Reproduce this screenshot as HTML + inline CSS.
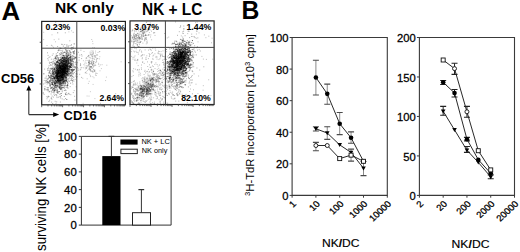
<!DOCTYPE html>
<html><head><meta charset="utf-8"><style>
html,body{margin:0;padding:0;background:#fff;width:520px;height:252px;overflow:hidden}
svg{display:block;font-family:"Liberation Sans", sans-serif}
.r{stroke:#000;stroke-width:0.25px}
</style></head><body>
<svg width="520" height="252" viewBox="0 0 520 252" font-family='"Liberation Sans", sans-serif' fill="#000">
<rect width="520" height="252" fill="#fff"/>
<text transform="translate(0.08,0.48) translate(1.39,19.40) scale(1.075,1.042)" font-size="24" font-weight="bold" >A</text>
<text transform="translate(0.4,0.16) translate(54.66,13.10) scale(1.038,1.033)" font-size="15" font-weight="bold" >NK only</text>
<text transform="translate(0.0,0.72) translate(142.07,14.50) scale(1.027,1.057)" font-size="15" font-weight="bold" >NK + LC</text>
<path d="M62.5 73.8h1M59.4 72.3h1M57.6 78.1h1M66.3 62.8h1M65.4 63.2h1M63.2 68.1h1M59.4 85.5h1M64.8 67.7h1M49.4 81.8h1M56.8 77.4h1M62.1 68.5h1M60.5 65.9h1M63.8 69.1h1M65.8 78.8h1M67.6 68.4h1M56.6 74.8h1M59.8 73.6h1M64.2 66.4h1M56.3 73.1h1M64.4 76.9h1M59.7 77.8h1M56.9 65.4h1M66.4 72.6h1M53.9 86.5h1M57.9 70.6h1M62.6 67.0h1M60.0 83.8h1M67.0 67.1h1M67.1 60.1h1M56.7 68.1h1M60.9 65.2h1M55.1 72.7h1M56.3 77.9h1M57.5 57.8h1M57.7 82.9h1M68.0 60.4h1M45.8 82.3h1M59.6 67.1h1M61.6 81.3h1M65.3 62.5h1M63.7 69.7h1M68.6 59.3h1M65.0 67.7h1M61.4 85.3h1M66.3 64.2h1M52.8 85.7h1M57.0 61.6h1M64.6 74.0h1M63.4 83.8h1M62.4 66.4h1M64.8 69.4h1M66.0 71.7h1M57.7 75.6h1M64.6 62.8h1M62.2 79.4h1M64.1 58.7h1M56.5 81.7h1M59.7 71.7h1M61.7 58.3h1M60.3 59.1h1M61.3 78.2h1M68.1 63.3h1M62.9 68.5h1M64.0 70.6h1M61.8 72.8h1M63.1 66.5h1M65.8 65.8h1M68.7 55.6h1M58.6 73.8h1M64.8 72.5h1M61.7 74.2h1M57.2 52.6h1M58.8 80.3h1M63.4 68.2h1M62.5 75.4h1M60.2 68.0h1M70.1 52.3h1M59.2 75.2h1M60.4 72.7h1M51.0 91.9h1M59.9 61.3h1M64.7 72.9h1M69.6 66.4h1M54.7 84.0h1M62.6 74.6h1M54.4 58.4h1M59.1 60.2h1M57.7 63.4h1M66.4 71.4h1M61.6 72.5h1M64.3 64.9h1M66.9 74.0h1M63.4 62.3h1M65.4 47.5h1M63.1 63.4h1M64.4 71.0h1M64.4 70.2h1M50.8 80.9h1M59.5 64.7h1M52.5 76.9h1M68.1 62.1h1M62.3 57.9h1M56.9 69.3h1M69.7 67.3h1M64.5 80.4h1M63.7 62.9h1M60.6 88.7h1M58.7 70.9h1M64.1 68.4h1M62.0 57.6h1M70.5 64.2h1M65.1 59.2h1M62.9 78.4h1M62.1 70.3h1M64.7 59.3h1M52.7 88.6h1M58.7 86.9h1M59.9 67.6h1M64.5 72.3h1M66.6 72.3h1M65.1 73.0h1M72.0 61.6h1M62.6 77.6h1M51.4 84.3h1M59.3 88.1h1M57.5 80.7h1M60.6 72.5h1M60.4 76.0h1M67.0 56.9h1M66.8 68.3h1M55.9 70.7h1M63.7 77.0h1M53.9 83.2h1M67.4 64.2h1M64.4 72.1h1M57.3 67.9h1M54.0 82.4h1M62.0 62.8h1M55.6 77.0h1M56.1 83.0h1M59.1 80.9h1M55.3 90.2h1M51.9 73.2h1M62.5 64.8h1M51.1 87.4h1M60.4 68.0h1M66.6 65.9h1M64.6 66.2h1M67.9 61.4h1M54.7 64.3h1M69.1 65.8h1M58.6 72.7h1M60.6 53.0h1M72.0 70.9h1M61.1 79.4h1M66.7 55.9h1M66.5 67.9h1M58.2 78.0h1M65.4 69.9h1M60.4 71.0h1M56.8 78.5h1M64.4 64.1h1M55.5 76.5h1M73.9 51.6h1M53.4 62.1h1M65.1 66.8h1M68.1 58.3h1M63.1 72.3h1M59.3 87.9h1M59.6 67.4h1M72.3 63.2h1M54.4 81.1h1M62.9 69.0h1M56.3 72.7h1M71.8 55.7h1M52.5 78.5h1M70.3 59.0h1M70.0 57.8h1M59.6 78.3h1M51.8 87.0h1M63.1 72.2h1M58.6 76.6h1M64.2 67.9h1M64.1 66.3h1M63.3 74.7h1M58.3 69.4h1M59.4 76.0h1M61.6 72.1h1M62.0 71.3h1M56.1 70.2h1M66.6 69.2h1M61.9 67.3h1M59.0 66.0h1M55.7 86.1h1M61.3 79.5h1M47.9 75.7h1M64.1 81.6h1M54.9 72.0h1M60.9 77.8h1M63.5 67.3h1M68.6 60.3h1M63.5 72.1h1M70.1 59.3h1M60.3 61.3h1M63.6 73.3h1M64.5 74.9h1M66.6 67.6h1M70.4 76.5h1M64.3 60.9h1M71.5 74.1h1M63.6 75.0h1M64.3 63.2h1M58.4 80.5h1M66.7 69.8h1M63.8 64.8h1M66.0 65.0h1M62.1 69.4h1M63.2 73.9h1M55.7 78.4h1M55.7 68.8h1M52.3 71.5h1M61.4 77.3h1M62.8 66.4h1M55.2 70.7h1M68.9 57.3h1M61.3 61.0h1M53.8 69.8h1M67.3 66.2h1M55.3 86.0h1M56.5 63.4h1M51.6 83.9h1M54.0 73.9h1M62.4 71.1h1M65.9 67.0h1M70.4 60.8h1M55.3 80.6h1M53.9 77.8h1M61.1 71.7h1M56.7 64.8h1M57.4 80.8h1M59.5 72.1h1M58.2 70.4h1M64.8 66.0h1M58.5 70.7h1M50.4 68.3h1M58.4 78.8h1M57.4 83.2h1M56.5 67.8h1M59.3 72.5h1M65.1 68.3h1M57.9 70.0h1M60.6 72.0h1M64.7 65.6h1M53.9 74.7h1M57.3 72.9h1M57.4 79.6h1M60.2 75.0h1M61.3 66.2h1M67.2 52.1h1M65.2 62.5h1M55.7 58.6h1M59.9 77.3h1M72.1 69.7h1M67.2 70.3h1M67.3 66.3h1M62.3 66.7h1M58.7 65.4h1M61.1 60.1h1M70.2 72.2h1M60.7 72.8h1M65.0 61.8h1M59.8 77.8h1M65.8 67.4h1M65.6 79.7h1M66.5 57.8h1M60.5 68.2h1M63.0 58.7h1M61.5 64.9h1M61.9 77.6h1M65.4 60.4h1M62.3 77.6h1M62.3 71.9h1M70.3 60.6h1M68.4 78.5h1M64.3 72.1h1M59.1 76.1h1M62.7 87.5h1M60.9 58.4h1M50.5 80.5h1M63.2 61.0h1M59.9 71.0h1M56.8 70.3h1M55.9 68.7h1M62.3 72.0h1M61.9 67.0h1M59.1 78.4h1M65.8 77.2h1M63.2 64.7h1M57.2 73.7h1M57.1 77.9h1M64.2 69.4h1M71.1 69.6h1M59.2 76.6h1M62.8 46.1h1M60.3 75.4h1M63.3 70.4h1M62.0 73.4h1M64.4 71.7h1M52.1 84.7h1M57.4 69.5h1M60.5 80.2h1M61.7 77.1h1M64.8 65.5h1M62.5 66.8h1M56.8 82.1h1M60.7 66.6h1M63.9 72.9h1M61.0 78.9h1M64.9 55.4h1M61.2 69.6h1M67.3 59.3h1M61.4 62.9h1M61.2 71.1h1M61.3 87.2h1M57.4 61.3h1M63.1 64.9h1M64.1 68.0h1M55.9 82.6h1M63.7 58.3h1M53.0 77.1h1M58.8 81.2h1M68.2 58.2h1M70.6 72.4h1M57.1 74.1h1M65.0 67.6h1M53.7 77.3h1M63.1 69.1h1M56.5 81.1h1M61.4 76.0h1M60.6 71.8h1M64.2 75.4h1M64.2 59.4h1M61.0 63.2h1M64.4 71.5h1M64.5 58.4h1M61.8 71.9h1M56.7 82.9h1M60.6 76.9h1M50.3 77.0h1M62.4 71.1h1M63.0 76.7h1M58.1 72.3h1M56.8 64.9h1M59.1 76.3h1M63.3 64.0h1M59.7 67.6h1M68.6 71.1h1M68.2 80.0h1M59.4 76.1h1M65.7 71.1h1M49.5 77.7h1M66.2 67.4h1M73.3 70.0h1M62.9 69.8h1M65.6 64.2h1M61.7 56.0h1M47.0 68.9h1M62.4 64.0h1M72.4 66.9h1M60.3 70.7h1M56.6 73.7h1M61.8 76.9h1M61.7 70.8h1M64.3 73.7h1M62.3 66.9h1M62.8 65.5h1M63.3 82.3h1M59.1 65.9h1M65.9 63.0h1M62.6 85.8h1M65.7 69.7h1M61.3 69.2h1M60.2 84.7h1M60.3 70.3h1M62.7 68.3h1M62.0 65.1h1M53.0 68.1h1M62.6 75.4h1M64.0 59.9h1M67.0 74.3h1M63.1 74.7h1M66.6 57.8h1M62.4 60.2h1M61.6 69.2h1M66.0 71.8h1M66.1 51.1h1M61.4 76.3h1M59.9 80.1h1M62.0 66.1h1M57.0 64.5h1M57.7 62.7h1M57.0 75.7h1M63.3 75.5h1M60.0 69.8h1M69.0 69.0h1M62.7 71.5h1M66.1 61.6h1M66.9 84.9h1M60.5 50.6h1M62.8 71.9h1M66.8 64.3h1M56.4 71.6h1M65.6 71.7h1M54.0 78.1h1M53.8 68.3h1M58.8 72.4h1M60.0 66.4h1M57.1 77.4h1M58.6 70.4h1M64.2 72.0h1M71.5 64.1h1M57.3 76.6h1M60.9 93.5h1M58.9 76.7h1M57.7 64.8h1M62.6 67.3h1M56.8 85.9h1M57.8 58.8h1M64.6 64.9h1M64.4 67.9h1M64.5 60.3h1M62.4 63.5h1M60.4 64.0h1M67.6 74.4h1M62.1 67.2h1M54.8 78.9h1M65.5 70.9h1M64.6 68.4h1M66.3 73.3h1M58.0 73.3h1M64.3 64.1h1M58.2 72.4h1M62.9 74.0h1M57.8 66.4h1M63.3 67.9h1M61.2 80.1h1M59.2 72.7h1M68.8 66.7h1M60.9 77.1h1M67.4 81.4h1M64.3 76.7h1M62.4 77.3h1M58.4 49.6h1M61.9 75.2h1M58.5 70.7h1M68.2 54.1h1M59.5 85.3h1M60.4 86.3h1M60.1 75.8h1M65.6 61.2h1M50.5 79.5h1M67.8 62.7h1M62.1 78.7h1M65.3 68.0h1M53.2 88.4h1M66.9 65.0h1M54.6 60.4h1M63.7 70.4h1M65.5 49.4h1M60.4 73.7h1M62.3 63.3h1M61.8 60.7h1M60.1 68.1h1M59.1 68.7h1M60.6 85.3h1M60.1 67.8h1M65.7 70.9h1M57.9 78.6h1M65.0 67.5h1M52.2 70.5h1M66.4 61.6h1M60.3 70.5h1M60.5 68.3h1M55.3 78.0h1M57.1 74.8h1M60.2 81.1h1M59.8 82.4h1M59.5 79.6h1M66.3 60.4h1M59.2 76.9h1M55.1 67.3h1M60.1 76.1h1M60.2 74.8h1M66.5 66.3h1M66.3 64.7h1M60.3 73.3h1M59.3 72.7h1M54.2 69.9h1M60.2 73.6h1M58.2 78.7h1M62.3 66.7h1M57.7 50.7h1M53.7 69.9h1M74.5 67.2h1M54.1 91.0h1M61.7 66.4h1M54.4 63.3h1M65.3 64.8h1M59.1 69.9h1M61.4 65.2h1M60.0 68.5h1M54.3 88.8h1M64.8 70.5h1M58.5 77.9h1M63.8 66.3h1M72.7 64.1h1M51.2 75.3h1M69.8 66.5h1M67.3 64.9h1M56.7 74.8h1M60.6 62.6h1M51.9 83.9h1M76.3 54.1h1M56.4 75.4h1M59.1 68.1h1M65.0 60.5h1M63.0 81.6h1M60.3 75.9h1M60.1 70.6h1M59.7 67.4h1M47.2 82.3h1M54.5 79.9h1M61.4 71.3h1M63.5 66.8h1M56.1 76.2h1M54.1 87.5h1M64.8 67.9h1M60.3 71.7h1M64.2 63.6h1M65.8 66.0h1M66.9 71.3h1M58.2 75.0h1M55.8 76.2h1M72.8 61.3h1M63.5 71.7h1M68.0 62.9h1M60.2 59.6h1M61.1 76.7h1M66.1 59.8h1M57.3 77.3h1M56.0 75.0h1M63.5 58.2h1M69.6 74.1h1M66.2 62.1h1M61.0 76.5h1M68.7 59.1h1M65.6 61.2h1M62.1 66.6h1M67.6 69.6h1M56.7 82.2h1M59.9 68.2h1M63.4 74.6h1M69.9 56.1h1M56.4 66.1h1M67.5 55.8h1M56.9 69.6h1M56.9 69.8h1M63.3 71.1h1M62.5 71.2h1M64.1 79.9h1M52.3 73.5h1M57.8 71.4h1M56.8 78.5h1M57.7 66.9h1M66.3 74.2h1M62.8 65.4h1M61.2 69.8h1M64.0 72.5h1M51.8 68.2h1M57.8 69.8h1M61.0 64.9h1M70.1 73.1h1M53.8 77.6h1M47.8 78.6h1M56.9 86.4h1M52.2 73.3h1M59.1 83.7h1M57.5 76.6h1M67.5 70.4h1M71.2 57.2h1M62.4 70.1h1M72.3 58.8h1M62.1 74.1h1M62.4 68.8h1M54.7 73.0h1M53.8 72.9h1M67.1 62.1h1M62.9 82.6h1M56.8 61.1h1M70.1 57.6h1M63.0 52.8h1M64.6 67.4h1M62.6 69.7h1M58.8 60.4h1M52.1 78.8h1M57.3 74.5h1M63.4 68.5h1M58.8 69.7h1M63.6 75.9h1M64.0 65.1h1M66.2 75.9h1M61.9 76.7h1M63.8 61.5h1M59.6 62.8h1M65.2 63.3h1M59.0 84.6h1M63.5 80.0h1M58.6 76.1h1M60.9 68.3h1M60.0 68.1h1M63.4 65.7h1M51.4 65.2h1M65.0 61.8h1M56.2 85.3h1M66.8 68.9h1M63.9 81.9h1M70.0 75.8h1M63.4 73.2h1M55.9 72.2h1M68.1 63.7h1M69.3 60.1h1M53.2 73.1h1M56.7 75.2h1M61.0 78.3h1M61.3 68.0h1M61.3 69.4h1M64.8 70.4h1M61.6 62.4h1M62.1 85.1h1M65.9 71.7h1M55.0 83.5h1M55.9 68.6h1M62.5 76.2h1M70.7 64.8h1M53.3 75.8h1M66.5 68.3h1M56.9 67.5h1M66.7 66.0h1M61.1 65.9h1M65.3 69.8h1M52.5 72.7h1M64.1 69.1h1M64.7 72.2h1M59.2 75.5h1M62.5 74.3h1M65.3 58.0h1M73.5 57.0h1M66.0 65.6h1M66.1 56.7h1M56.9 70.3h1M67.9 69.3h1M64.6 67.4h1M61.3 72.8h1M60.9 83.8h1M55.8 72.6h1M55.8 75.7h1M68.0 65.8h1M60.7 83.1h1M61.8 63.1h1M53.9 81.7h1M60.7 76.5h1M52.4 70.8h1M56.2 66.9h1M59.5 62.0h1M55.9 75.2h1M64.6 77.2h1M66.2 65.1h1M56.4 66.2h1M57.6 74.3h1M60.2 79.5h1M56.3 75.8h1M50.2 76.2h1M68.2 68.3h1M58.1 68.2h1M53.6 92.7h1M66.2 61.8h1M69.8 65.9h1M63.1 61.4h1M67.5 63.8h1M55.0 82.6h1M56.5 82.1h1M59.0 64.8h1M59.9 89.2h1M68.1 70.2h1M61.3 83.1h1M75.4 57.6h1M61.7 73.1h1M64.6 73.7h1M64.8 62.9h1M59.9 82.9h1M62.3 75.7h1M68.3 71.3h1M63.1 61.3h1M69.1 70.9h1M61.3 75.9h1M69.8 63.4h1M57.9 64.9h1M58.4 81.4h1M72.2 71.7h1M63.0 79.5h1M57.3 62.4h1M59.4 77.7h1M59.2 74.7h1M59.7 66.1h1M60.3 66.4h1M61.7 76.1h1M60.6 76.0h1M66.3 58.4h1M63.7 73.2h1M64.3 75.5h1M59.7 82.1h1M56.7 73.9h1M63.5 55.7h1M69.2 58.1h1M62.0 58.0h1M70.6 63.7h1M60.4 71.7h1M69.5 51.8h1M57.6 73.4h1M63.9 68.0h1M68.4 72.2h1M62.1 74.3h1M62.0 57.9h1M71.5 65.5h1M52.9 80.1h1M51.0 76.5h1M55.6 64.7h1M68.4 69.2h1M55.1 83.3h1M58.4 87.4h1M58.0 76.4h1M63.6 71.4h1M60.3 73.8h1M60.1 75.5h1M57.9 80.4h1M53.5 85.6h1M67.5 55.9h1M58.4 81.4h1M52.0 76.3h1M61.8 77.9h1M62.1 67.8h1M54.3 76.7h1M66.4 60.7h1M50.3 75.4h1M66.5 85.5h1M57.5 80.0h1M61.3 69.1h1M55.2 71.2h1M64.5 81.8h1M62.2 78.2h1M55.0 84.0h1M66.1 70.5h1M60.1 80.8h1M59.7 66.8h1M59.3 65.9h1M58.8 77.3h1M52.5 92.3h1M52.6 76.7h1M62.9 75.5h1M64.9 76.1h1M52.7 78.2h1M67.6 59.3h1M61.1 62.3h1M64.8 65.0h1M63.4 65.9h1M62.5 60.5h1M52.7 76.4h1M62.1 60.7h1M54.5 77.9h1M55.1 72.6h1M58.0 72.4h1M55.9 73.9h1M59.7 70.0h1M62.6 70.5h1M54.0 65.1h1M56.6 74.1h1M57.7 62.5h1M58.0 76.2h1M64.1 75.1h1M63.6 75.9h1M49.9 79.9h1M66.7 62.0h1M63.3 67.3h1M58.1 65.4h1M62.2 62.7h1M64.7 63.3h1M50.3 84.7h1M64.3 61.9h1M61.0 74.5h1M57.9 73.6h1M62.2 70.4h1M66.1 59.1h1M74.0 58.8h1M70.6 59.0h1M62.2 70.2h1M58.1 71.0h1M58.6 70.6h1M68.4 58.8h1M52.6 71.7h1M59.5 70.8h1M53.6 77.9h1M56.5 89.7h1M71.0 75.4h1M60.6 71.0h1M66.3 59.8h1M60.4 69.1h1M65.2 78.0h1M70.9 65.6h1M60.3 73.8h1M62.3 79.4h1M59.2 82.9h1M70.1 64.4h1M62.6 80.1h1M56.2 75.5h1M61.6 83.2h1M64.1 57.1h1M57.7 76.5h1M72.9 52.6h1M52.8 72.6h1M63.8 78.1h1M66.0 55.8h1M57.2 75.7h1M59.0 87.3h1M62.0 81.2h1M51.2 82.6h1M59.3 67.6h1M63.7 64.8h1M60.1 81.2h1M56.6 61.5h1M68.8 57.3h1M56.5 62.2h1M57.7 76.2h1M59.0 60.3h1M50.8 75.0h1M61.9 73.4h1M53.8 83.5h1M68.9 69.3h1M62.2 65.3h1M54.1 78.9h1M59.8 76.5h1M67.5 73.9h1M58.1 67.1h1M69.7 60.2h1M58.9 69.1h1M51.6 84.3h1M61.0 62.6h1M58.0 81.7h1M64.4 70.0h1M68.7 67.9h1M62.5 79.1h1M60.9 79.9h1M62.8 69.9h1M64.2 63.3h1M68.1 63.5h1M59.6 69.1h1M57.0 76.2h1M60.6 72.6h1M72.9 48.3h1M60.4 63.6h1M57.9 76.2h1M57.9 67.9h1M64.1 57.4h1M55.7 59.0h1M62.3 71.5h1M64.2 70.4h1M62.8 69.0h1M52.7 84.9h1M56.5 90.5h1M61.5 68.3h1M56.5 76.6h1M73.6 59.0h1M66.0 73.4h1M49.0 80.7h1M56.5 73.5h1M60.3 75.7h1M68.1 46.1h1M62.5 71.0h1M64.8 72.7h1M62.0 55.1h1M60.8 69.3h1M56.5 65.9h1M47.0 81.5h1M63.7 67.1h1M52.5 66.9h1M57.3 72.8h1M53.4 80.8h1M65.5 66.3h1M63.2 71.9h1M59.7 75.9h1M63.5 71.5h1M60.5 71.3h1M58.4 71.1h1M70.1 54.1h1M71.4 71.0h1M59.7 57.6h1M66.6 66.7h1M72.1 58.0h1M59.2 63.1h1M59.6 78.3h1M59.0 65.5h1M58.6 73.5h1M62.8 71.0h1M55.7 71.4h1M71.2 63.5h1M64.9 73.4h1M65.2 68.5h1M59.9 66.1h1M66.9 68.0h1M66.1 81.0h1M74.7 57.2h1M70.3 56.3h1M58.0 72.8h1M59.2 77.6h1M63.8 72.3h1M63.9 90.4h1M68.2 52.9h1M65.2 66.3h1M61.3 68.5h1M57.8 70.7h1M61.8 69.6h1M59.0 67.2h1M61.6 70.8h1M59.1 64.6h1M66.3 69.1h1M61.7 65.7h1M58.9 74.5h1M69.5 67.5h1M58.4 71.3h1M63.2 68.3h1M55.7 77.1h1M63.6 72.8h1M53.7 78.9h1M58.2 65.2h1M63.0 70.7h1M57.1 70.4h1M59.8 71.0h1M59.1 67.1h1M58.3 59.9h1M60.8 72.4h1M61.9 62.5h1M60.8 65.8h1M70.2 67.7h1M61.8 74.8h1M62.2 79.8h1M65.2 61.5h1M59.3 80.6h1M69.0 63.5h1M56.8 61.8h1M64.6 78.5h1M61.8 82.4h1M70.0 57.2h1M63.5 61.6h1M57.1 80.6h1M60.5 72.5h1M62.9 65.3h1M63.5 70.1h1M68.3 73.8h1M63.0 67.6h1M58.3 71.7h1M66.0 60.6h1M55.8 78.7h1M59.2 71.4h1M60.2 60.7h1M63.4 67.3h1M57.9 80.4h1M62.9 72.5h1M61.1 75.0h1M52.0 82.6h1M67.7 66.3h1M59.0 70.2h1M56.6 59.3h1M61.4 78.3h1M59.4 64.3h1M61.0 88.1h1M58.3 68.5h1M64.9 71.9h1M57.6 93.2h1M55.6 62.0h1M56.9 62.2h1M66.3 62.6h1M65.9 52.2h1M65.3 72.5h1M56.6 75.0h1M59.9 73.8h1M59.8 80.3h1M63.2 66.8h1M65.3 57.0h1M63.2 59.8h1M56.2 62.1h1M61.2 69.2h1M57.4 74.0h1M57.5 72.7h1M52.3 87.5h1M57.6 74.6h1M57.5 79.2h1M62.8 64.4h1M65.0 76.9h1M67.8 64.6h1M63.6 61.4h1M65.2 73.7h1M59.1 75.2h1M63.9 68.6h1M64.2 74.7h1M63.5 73.5h1M67.1 63.5h1M59.1 63.5h1M54.9 80.5h1M68.5 69.5h1M58.7 81.1h1M55.9 76.7h1M63.1 74.2h1M66.5 71.1h1M61.7 80.1h1M64.4 63.7h1M60.6 66.4h1M56.4 79.0h1M70.4 80.4h1M66.1 77.3h1M63.1 69.9h1M60.6 64.0h1M65.6 64.3h1M58.9 83.9h1M64.7 67.3h1M64.6 57.8h1M65.7 68.1h1M63.1 79.9h1M51.9 80.6h1M58.7 65.2h1M54.7 69.5h1M57.2 68.8h1M56.5 66.0h1M61.7 67.0h1M61.2 70.4h1M56.7 68.0h1M53.5 91.4h1M56.7 77.7h1M55.0 64.7h1M56.6 76.1h1M59.3 79.9h1M57.7 70.9h1M61.4 80.0h1M61.5 77.1h1M55.4 64.6h1M58.0 79.6h1M65.3 69.4h1M67.7 66.2h1M59.3 73.6h1M62.1 64.2h1M58.5 60.3h1M62.7 65.6h1M59.0 88.0h1M62.3 68.6h1M56.2 78.8h1M62.8 57.8h1M47.3 97.2h1M57.1 80.3h1M56.6 72.8h1M62.7 79.2h1M64.3 85.3h1M55.4 73.7h1M65.9 65.6h1M60.9 80.4h1M52.1 84.2h1M63.8 61.7h1M59.3 82.1h1M64.0 63.7h1M54.4 84.8h1M65.5 68.8h1M66.0 55.9h1M59.7 74.8h1M61.4 60.0h1M54.8 56.6h1M61.2 63.7h1M65.3 68.4h1M57.3 80.2h1M64.3 70.0h1M54.6 76.9h1M65.1 90.0h1M59.9 72.2h1M60.3 84.2h1M65.1 77.4h1M64.0 64.3h1M59.3 63.6h1M58.1 72.7h1M57.5 81.1h1M66.3 74.3h1M48.4 96.6h1M56.7 77.6h1M64.1 68.3h1M59.6 70.1h1M64.2 67.6h1M54.6 85.2h1M52.6 80.1h1M62.0 69.9h1M58.3 68.8h1M57.2 71.2h1M65.1 69.0h1M71.5 59.0h1M57.1 76.7h1M59.6 78.9h1M70.1 56.4h1M49.7 86.6h1M59.3 82.0h1M62.4 71.4h1M63.6 55.7h1M66.2 80.6h1M59.4 67.1h1M49.2 84.8h1M54.0 90.5h1M65.2 72.1h1M58.2 71.1h1M66.3 79.7h1M56.5 85.2h1M63.7 71.7h1M62.0 74.9h1M63.2 64.3h1M59.2 74.3h1M57.5 78.3h1M61.2 73.7h1M70.4 62.4h1M62.2 75.4h1M65.1 69.8h1M62.4 71.2h1M56.9 73.5h1M68.9 66.0h1M65.0 66.4h1M60.4 68.2h1M58.3 86.1h1M59.8 68.6h1M63.2 80.5h1M62.5 87.9h1M72.3 69.5h1M59.0 76.7h1M60.3 75.2h1M57.8 71.6h1M61.6 61.3h1M61.9 75.8h1M58.0 74.6h1M61.0 67.6h1M57.1 80.7h1M67.1 75.3h1M61.6 81.1h1M57.5 76.7h1M61.3 74.0h1M70.6 66.8h1M64.4 78.0h1M67.5 64.3h1M62.4 78.4h1M62.3 72.4h1M63.0 74.1h1M69.1 63.8h1M64.5 74.1h1M62.2 58.1h1M60.7 57.4h1M65.2 67.6h1M66.9 59.7h1M56.8 73.6h1M60.4 82.1h1M57.8 71.8h1M60.0 65.6h1M58.2 73.8h1M72.0 60.1h1M54.8 69.9h1M62.4 68.9h1M64.5 69.1h1M63.8 74.9h1M64.7 64.7h1M58.2 73.5h1M59.2 63.9h1M57.9 71.1h1M59.3 82.9h1M61.4 71.3h1M58.3 61.9h1M62.2 72.0h1M59.7 62.8h1M64.3 65.7h1M69.8 62.0h1M71.2 69.8h1M59.7 70.4h1M56.7 72.3h1M54.0 68.4h1M62.7 72.3h1M63.0 62.6h1M63.1 59.0h1M53.7 69.3h1M55.9 75.9h1M67.8 60.2h1M60.0 80.3h1M61.9 66.9h1M60.2 70.4h1M53.1 72.6h1M65.8 73.6h1M64.6 59.5h1M58.3 76.5h1M65.3 64.6h1M60.9 76.0h1M62.6 73.3h1M54.6 72.0h1M64.3 71.7h1M57.6 79.4h1M62.5 63.7h1M66.9 79.0h1M67.6 66.1h1M64.5 80.7h1M54.4 83.0h1M68.5 67.2h1M56.0 77.2h1M54.7 66.7h1M65.3 66.9h1M62.0 75.2h1M64.8 65.5h1M68.5 69.2h1M60.5 74.9h1M63.6 76.5h1M61.8 74.8h1M62.0 70.0h1M66.1 57.7h1M68.6 61.3h1M64.6 60.6h1M66.9 65.0h1M60.5 76.1h1M60.8 71.9h1M62.5 60.0h1M49.9 81.4h1M57.6 73.5h1M63.4 71.7h1M67.7 58.0h1M60.0 66.4h1M68.0 68.5h1M58.1 58.0h1M69.8 66.5h1M58.2 62.5h1M62.6 74.2h1M59.5 66.7h1M62.2 79.2h1M62.6 83.2h1M62.5 71.3h1M55.2 80.3h1M57.9 63.6h1M62.3 53.2h1M57.8 80.4h1M65.4 68.4h1M59.4 73.5h1M58.5 72.0h1M57.2 92.0h1M62.6 69.3h1M60.4 76.1h1M61.0 71.0h1M58.2 60.1h1M58.1 67.6h1M65.9 75.6h1M57.7 79.1h1M63.0 76.9h1M52.2 76.1h1M61.5 66.6h1M64.3 75.0h1M57.3 77.2h1M63.3 70.5h1M63.6 76.4h1M66.4 53.4h1M59.1 53.8h1M64.2 59.8h1M60.5 69.5h1M54.7 74.0h1M64.9 75.9h1M63.4 61.8h1M57.2 74.0h1M64.4 82.7h1M63.7 66.1h1M56.1 73.3h1M68.1 62.1h1M62.1 79.7h1M60.4 80.3h1M56.9 77.7h1M64.3 67.9h1M61.2 62.1h1M70.9 60.9h1M63.0 71.7h1M58.4 76.7h1M57.7 81.2h1M66.8 71.4h1M67.1 65.0h1M59.4 73.4h1M61.1 73.9h1M58.4 86.8h1M54.8 82.2h1M59.5 70.1h1M65.9 58.2h1M70.3 60.7h1M61.3 75.4h1M63.9 60.7h1M59.5 69.5h1M60.2 70.0h1M65.2 71.8h1M65.9 60.6h1M65.0 70.7h1M56.6 71.7h1M61.2 61.2h1M60.5 62.5h1M62.9 55.6h1M69.3 66.7h1M63.9 80.4h1M52.4 74.7h1M66.0 66.5h1M51.4 68.9h1M60.0 71.0h1M59.1 73.5h1M53.9 83.8h1M72.3 59.5h1M57.6 72.7h1M66.4 69.5h1M59.1 63.8h1M62.3 70.0h1M69.9 61.8h1M67.3 68.8h1M65.8 76.2h1M61.5 74.8h1M60.7 62.7h1M52.8 73.8h1M61.6 69.7h1M62.2 74.2h1M55.0 87.1h1M60.6 70.0h1M70.1 67.5h1M56.5 73.0h1M59.9 75.7h1M59.9 65.3h1M60.5 61.9h1M65.3 65.3h1M70.6 70.6h1M59.9 72.8h1M65.9 68.6h1M58.4 81.6h1M61.4 77.5h1M65.5 60.7h1M61.7 72.1h1M55.4 94.6h1M63.6 67.0h1M57.4 73.0h1M65.2 74.1h1M65.9 73.7h1M52.0 89.9h1M62.1 68.9h1M54.0 82.7h1M60.3 59.7h1M54.3 77.0h1M62.0 76.1h1M55.6 63.6h1M63.4 59.1h1M65.7 77.9h1M56.5 69.9h1M56.7 74.8h1M57.1 78.2h1M65.2 64.8h1M67.4 85.5h1M58.8 78.7h1M64.2 71.8h1M62.0 74.1h1M67.9 55.1h1M59.3 79.7h1M57.6 76.6h1M63.1 70.0h1M63.6 74.4h1M55.9 70.6h1M62.6 63.8h1M62.5 60.8h1M64.1 67.1h1M47.8 89.4h1M63.2 81.5h1M59.1 86.7h1M66.3 63.4h1M61.5 65.2h1M62.1 71.4h1M65.1 68.8h1M58.1 71.6h1M61.1 75.9h1M51.8 81.8h1M58.1 73.3h1M50.7 69.3h1M59.4 73.2h1M56.3 62.3h1M62.1 74.0h1M67.1 69.0h1M60.6 61.5h1M62.0 65.7h1M64.6 79.3h1M56.3 74.6h1M57.0 72.9h1M65.7 63.9h1M67.0 60.9h1M63.3 77.2h1M57.7 75.3h1M60.9 72.3h1M62.6 61.0h1M62.2 68.3h1M53.5 79.0h1M62.1 73.3h1M64.0 69.2h1M59.8 70.0h1M58.9 66.3h1M56.1 80.8h1M55.2 81.2h1M57.0 75.9h1M58.2 70.2h1M53.7 71.8h1M58.5 68.6h1M52.1 63.9h1M59.8 77.5h1M52.7 89.1h1M62.0 70.4h1M57.7 82.8h1M58.2 68.5h1M63.3 65.2h1M59.7 70.2h1M63.3 67.0h1M66.3 63.0h1M58.6 75.4h1M62.7 63.5h1M64.4 68.8h1M52.2 69.0h1M62.5 70.3h1M58.9 68.9h1M64.4 61.6h1M56.8 74.7h1M58.3 66.7h1M65.7 81.5h1M69.1 62.5h1M67.6 61.4h1M60.7 85.6h1M66.8 62.2h1M60.1 87.8h1M63.6 59.8h1M64.6 71.1h1M65.1 73.2h1M64.1 71.4h1M56.1 68.2h1M70.1 83.2h1M67.0 70.7h1M71.0 64.7h1M60.7 65.9h1M54.2 68.1h1M64.1 73.8h1M55.6 87.9h1M68.7 66.6h1M56.1 77.2h1M51.9 83.9h1M70.6 69.9h1M63.0 81.8h1M60.7 67.0h1M58.5 50.5h1M61.9 71.8h1M74.3 57.2h1M68.6 53.8h1M69.3 65.4h1M64.2 67.6h1M59.2 71.8h1M64.9 83.3h1M52.2 71.4h1M62.0 68.9h1M68.6 72.3h1M60.0 71.4h1M59.0 76.7h1M60.7 74.7h1M72.1 47.5h1M65.9 80.4h1M66.9 65.5h1M66.5 66.7h1M68.6 67.8h1M69.3 65.2h1M59.8 74.9h1M62.7 78.0h1M62.1 63.9h1M72.8 70.3h1M60.9 59.8h1M63.4 72.6h1M62.6 71.8h1M66.1 62.4h1M60.7 80.5h1M61.4 71.9h1M54.5 73.4h1M56.2 80.1h1M48.0 75.3h1M60.4 60.5h1M61.1 77.4h1M59.1 91.5h1M61.5 77.9h1M61.0 75.2h1M61.6 70.2h1M50.3 83.0h1M66.4 73.4h1M61.6 76.0h1M63.6 70.4h1M58.7 61.2h1M61.5 68.6h1M57.2 72.2h1M55.1 75.6h1M67.4 83.1h1M66.4 57.9h1M59.9 63.9h1M46.2 89.8h1M67.1 72.0h1M57.4 69.9h1M56.9 71.4h1M56.3 81.4h1M57.1 72.9h1M55.2 76.5h1M67.2 71.2h1M69.0 75.9h1M57.5 83.9h1M57.2 79.7h1M63.7 71.0h1M62.6 61.5h1M56.9 80.3h1M59.6 67.7h1M70.3 66.5h1M58.4 82.5h1M57.2 60.4h1M61.1 69.1h1M61.9 83.9h1M60.2 68.6h1M65.0 68.5h1M65.8 65.9h1M58.1 66.1h1M60.5 74.4h1M60.9 95.5h1M56.2 72.4h1M56.8 85.4h1M59.2 69.9h1M56.7 72.9h1M58.7 76.6h1M61.9 77.0h1M61.4 72.3h1M67.3 69.7h1M64.0 66.7h1M57.8 71.1h1M62.8 74.6h1M60.5 68.7h1M51.6 79.1h1M66.1 70.0h1M57.3 66.1h1M61.5 73.0h1M59.8 78.6h1M57.6 71.3h1M60.6 81.8h1M59.1 67.0h1M61.6 80.1h1M62.0 66.0h1M65.0 58.3h1M62.2 80.7h1M62.0 73.0h1M57.7 69.3h1M57.0 79.9h1M61.8 58.7h1M66.2 60.8h1M59.0 80.0h1M59.7 65.3h1M56.2 87.9h1M59.6 80.2h1M55.0 85.5h1M53.4 75.1h1M61.2 73.1h1M55.2 73.6h1M55.4 66.8h1M64.7 67.6h1M69.6 59.3h1M63.3 68.6h1M56.5 68.9h1M67.6 60.5h1M56.2 71.5h1M67.7 60.3h1M60.2 81.1h1M66.9 56.4h1M61.0 67.3h1M63.4 77.4h1M70.9 47.5h1M63.9 73.1h1M63.1 74.4h1M60.0 63.2h1M57.8 79.1h1M64.8 65.0h1M59.9 59.5h1M60.5 66.3h1M62.8 70.7h1M57.6 78.1h1M58.8 80.3h1M56.9 76.8h1M59.5 68.4h1M62.4 61.3h1M64.9 64.9h1M57.4 78.6h1" stroke="#000" stroke-opacity="0.4" stroke-width="1" fill="none"/>
<path d="M54.9 81.4h1M71.3 80.2h1M69.0 81.3h1M54.8 64.0h1M54.7 101.3h1M56.5 97.6h1M68.2 61.4h1M58.5 74.3h1M60.3 68.7h1M56.2 77.9h1M62.4 57.2h1M55.5 65.2h1M49.1 77.5h1M64.4 76.5h1M59.3 67.7h1M61.6 64.5h1M64.4 68.8h1M47.8 60.1h1M59.9 89.7h1M74.7 79.3h1M56.4 73.9h1M71.3 56.3h1M72.9 51.5h1M64.6 76.7h1M54.6 80.6h1M57.1 78.5h1M61.5 62.2h1M59.3 67.5h1M47.6 55.4h1M61.1 75.3h1M62.5 87.6h1M70.1 73.1h1M69.4 62.8h1M53.5 71.6h1M57.1 74.0h1M59.2 68.4h1M64.8 32.8h1M63.4 57.6h1M65.7 77.6h1M53.4 69.5h1M61.7 67.2h1M52.9 97.1h1M51.5 83.0h1M65.1 67.6h1M73.4 81.2h1M59.0 66.1h1M61.3 69.4h1M67.7 93.8h1M58.4 74.0h1M64.6 81.5h1M71.9 76.4h1M74.9 67.3h1M62.8 74.8h1M58.0 77.1h1M49.5 91.3h1M52.6 82.0h1M68.2 58.9h1M72.0 60.3h1M71.5 64.2h1M63.3 81.5h1M56.2 75.0h1M80.0 63.8h1M67.5 88.2h1M59.4 60.7h1M64.6 70.2h1M60.5 67.2h1M55.4 87.6h1M69.8 64.4h1M70.9 67.5h1M56.2 84.0h1M68.8 71.0h1M65.0 71.9h1M74.8 76.1h1M50.9 97.9h1M73.7 44.2h1M53.5 94.2h1M50.2 87.6h1M72.8 74.1h1M67.3 68.7h1M66.9 61.1h1M56.5 82.3h1M60.8 67.9h1M55.7 79.4h1M47.7 87.5h1M58.3 72.7h1M70.0 75.5h1M62.2 68.9h1M48.9 83.6h1M57.2 66.0h1M56.2 64.9h1M61.2 70.8h1M63.1 59.9h1M60.9 77.4h1M71.9 76.0h1M56.5 74.2h1M62.5 77.4h1M66.4 71.5h1M70.3 94.7h1M69.1 51.0h1M56.5 87.0h1M48.9 62.2h1M51.8 68.7h1M71.8 70.5h1M56.2 56.8h1M73.0 58.6h1M62.5 77.9h1M65.8 54.0h1M57.4 71.3h1M52.7 53.8h1M61.4 53.6h1M55.0 57.7h1M53.0 82.0h1M54.6 58.9h1M59.7 63.9h1M64.7 57.3h1M62.1 66.4h1M66.9 50.7h1M73.3 77.6h1M65.7 73.3h1M58.9 81.6h1M51.4 99.2h1M48.6 76.4h1M61.7 91.8h1M53.4 63.8h1M64.9 49.7h1M60.9 77.4h1M45.7 81.8h1M65.0 84.1h1M55.4 57.5h1M66.7 58.5h1M63.6 66.8h1M56.6 65.2h1M52.5 81.4h1M63.2 78.3h1M65.5 90.6h1M54.4 78.4h1M66.9 65.4h1M52.7 73.8h1M46.4 80.3h1M73.0 61.8h1M72.6 51.9h1M67.3 70.5h1M63.7 60.8h1M76.1 73.7h1M44.5 88.8h1M61.4 85.6h1M64.3 57.8h1M63.7 64.5h1M59.0 67.7h1M60.8 72.8h1M80.1 64.8h1M56.1 95.0h1M67.1 74.9h1M70.7 62.0h1M58.7 60.7h1M63.8 96.5h1M60.5 56.1h1M71.0 59.1h1M55.5 103.3h1M63.8 86.9h1M53.2 78.6h1M52.6 90.0h1M61.4 59.0h1M66.0 99.4h1M73.7 52.7h1M50.9 75.8h1M57.1 93.0h1M60.2 54.7h1M59.3 71.8h1M63.0 76.7h1M66.5 46.5h1M71.7 65.2h1M58.8 75.5h1M61.7 90.8h1M54.5 77.1h1M55.9 69.6h1M54.4 83.9h1M66.5 54.6h1M54.2 62.8h1M63.6 99.7h1M49.5 73.4h1M64.3 75.2h1M47.6 90.5h1M56.4 67.2h1M70.7 65.5h1M60.3 66.3h1M56.8 71.5h1M62.4 74.8h1M65.8 78.4h1M69.3 40.8h1M67.7 70.5h1M62.4 64.4h1M65.1 80.6h1M67.0 66.4h1M61.3 83.4h1M63.4 62.7h1M77.6 70.3h1M56.3 96.0h1M47.1 82.9h1M63.4 76.6h1M53.9 69.0h1M50.9 88.0h1M55.8 70.3h1M65.2 94.4h1M56.2 81.9h1M54.8 77.5h1M59.3 71.3h1M56.3 62.3h1M66.5 94.7h1M65.5 75.3h1M69.9 60.0h1M51.3 68.3h1M59.9 93.7h1M67.7 66.0h1M48.7 82.0h1M55.3 68.1h1M64.3 52.4h1M63.9 81.2h1M56.8 66.4h1M76.9 67.6h1M53.8 86.3h1M43.8 80.4h1M68.3 66.9h1M68.2 62.1h1M51.6 96.1h1M50.5 77.5h1M60.8 87.4h1M72.1 80.8h1M51.1 62.3h1M73.0 65.1h1M53.5 69.1h1M60.8 48.4h1M48.5 68.8h1M44.5 83.1h1M73.5 62.6h1M50.5 73.9h1M63.1 74.1h1M46.6 87.6h1M65.0 75.4h1M64.2 72.7h1M56.6 66.6h1M58.0 73.0h1M58.3 64.9h1M67.8 55.5h1M67.4 67.8h1M68.3 61.2h1M48.9 91.6h1M72.6 51.7h1M66.6 67.0h1M53.7 78.4h1M65.4 83.0h1M74.0 72.6h1M75.4 71.3h1M55.6 64.1h1M71.2 52.7h1M67.9 58.9h1M60.6 76.8h1M48.2 82.8h1M53.5 81.7h1M54.1 88.3h1M75.4 73.9h1M69.2 50.5h1M63.7 61.4h1M62.6 67.8h1M59.0 79.1h1M57.0 91.2h1M52.7 73.2h1M62.9 78.2h1M60.9 81.8h1M73.6 69.6h1M55.3 85.2h1M73.0 70.1h1M67.1 71.3h1M50.4 88.5h1M66.9 52.0h1M66.4 44.9h1M49.5 71.8h1M65.7 65.6h1M71.4 48.8h1M50.8 72.0h1M66.7 75.9h1M72.3 66.7h1M64.7 62.0h1M64.9 65.7h1M65.8 92.7h1M56.0 65.4h1M64.6 68.6h1M74.9 64.2h1M62.0 51.8h1M54.1 95.5h1M64.8 69.4h1M52.8 84.6h1M66.7 72.0h1M73.1 47.0h1M43.0 73.8h1M65.2 59.3h1M54.1 71.3h1M52.8 59.2h1M62.3 71.5h1M70.8 72.2h1M61.1 73.9h1M55.0 58.3h1M60.1 76.2h1M60.3 59.0h1M67.2 63.8h1M44.5 86.7h1M55.2 90.1h1M66.7 71.8h1M61.3 61.2h1M71.3 61.7h1M66.3 68.0h1M57.3 88.9h1M48.4 81.9h1M60.3 77.1h1M58.6 72.3h1M57.5 85.0h1M48.4 77.9h1M70.9 75.0h1M52.2 74.7h1M78.6 60.1h1M58.3 75.5h1M81.1 77.4h1M68.1 73.4h1M51.3 62.6h1M47.8 82.7h1M63.7 67.5h1M67.6 50.2h1M62.9 69.0h1M76.7 76.7h1M71.9 72.8h1M63.1 55.3h1M61.7 63.3h1M62.5 71.6h1M58.0 71.1h1M66.6 53.0h1M75.2 68.3h1M70.6 67.5h1M74.6 58.5h1M59.8 48.1h1M70.4 48.9h1M48.6 92.0h1M54.3 89.3h1M47.5 88.0h1M63.4 69.3h1M55.7 81.5h1M61.0 73.9h1M59.5 72.0h1M54.7 57.8h1M59.5 78.8h1M55.5 76.0h1M60.3 78.3h1M65.6 57.0h1M62.1 76.6h1M47.3 70.5h1M59.8 68.3h1M62.4 81.0h1M57.5 70.5h1M60.3 72.0h1M64.5 67.8h1M50.5 75.1h1M54.9 85.4h1M60.5 88.3h1M43.1 84.0h1M48.5 70.3h1M62.2 50.3h1M59.2 72.5h1M45.6 78.0h1M57.9 97.2h1M79.9 65.6h1M57.8 91.6h1M66.4 74.8h1M63.3 80.6h1M69.2 63.2h1M66.7 54.5h1M63.7 52.0h1M50.9 45.3h1M55.8 70.3h1M67.7 75.1h1M65.0 64.0h1M59.4 48.1h1M67.0 86.2h1M49.0 63.3h1M54.9 65.4h1M75.4 57.5h1M66.9 82.4h1M63.1 84.9h1M62.9 65.2h1M52.5 89.0h1M46.5 98.8h1M60.2 98.0h1M66.2 66.4h1M72.4 84.0h1M65.1 63.3h1M69.5 69.1h1M49.0 76.1h1M49.9 68.8h1M66.1 74.4h1M69.8 54.9h1M66.8 72.0h1M65.5 54.7h1M50.0 85.4h1M49.3 85.5h1M62.7 74.8h1M62.2 70.8h1M62.1 77.9h1M70.1 63.7h1M66.2 53.6h1M70.9 79.8h1M64.6 71.1h1M65.7 79.0h1M52.5 74.8h1M57.8 72.1h1M62.5 61.4h1M60.2 70.5h1M58.5 66.8h1M56.9 55.5h1M54.6 75.4h1M64.3 64.8h1M61.1 65.8h1M50.3 78.4h1M55.9 75.2h1M64.6 70.0h1M64.9 60.4h1M50.6 78.9h1M63.6 72.7h1M71.4 49.4h1M81.5 56.0h1M64.0 88.3h1M75.1 62.1h1M67.2 75.0h1M58.3 78.2h1M72.7 76.8h1M66.2 77.5h1M56.7 69.9h1M66.4 71.2h1M61.8 82.7h1M51.9 78.9h1M60.5 69.2h1M45.7 80.3h1M62.7 72.8h1M60.1 78.5h1M56.4 92.0h1M64.8 68.2h1M58.6 80.1h1M68.6 73.6h1M64.0 69.8h1M63.2 83.5h1M63.3 57.0h1M66.0 65.5h1M52.4 69.8h1M57.1 46.5h1M60.0 67.9h1M63.6 57.6h1M65.2 73.6h1M59.8 65.7h1M66.8 65.2h1M62.3 59.2h1M58.2 72.1h1M58.7 83.3h1M72.2 71.1h1M62.0 77.4h1M65.6 58.4h1M62.2 72.1h1M51.3 78.3h1M67.4 59.4h1M52.6 70.3h1M69.2 74.0h1M49.8 84.1h1M75.5 62.7h1M64.7 52.4h1M58.9 63.4h1M61.1 65.3h1M70.6 73.5h1M61.0 67.8h1M63.0 72.5h1M59.9 79.2h1M73.9 69.2h1M43.6 94.4h1M60.9 89.6h1M73.7 43.6h1M69.0 73.9h1M48.4 101.5h1M55.5 77.4h1M58.8 66.9h1M66.2 59.1h1M79.2 74.3h1M64.9 80.2h1M65.2 85.6h1M66.4 61.2h1M76.1 64.6h1M67.5 55.9h1M67.9 75.9h1M50.2 88.7h1M66.9 68.1h1M81.1 54.6h1M65.4 69.7h1M53.6 87.9h1M60.8 68.8h1M65.2 73.3h1M52.9 82.5h1M60.1 96.7h1M45.1 80.9h1M63.2 62.7h1M63.1 60.0h1M75.5 48.8h1M62.4 71.0h1M65.3 77.0h1M67.6 47.5h1M59.8 87.0h1M56.3 56.0h1M51.4 78.3h1M66.9 67.0h1M50.3 78.5h1M50.9 59.2h1M63.0 64.4h1M76.3 52.0h1M56.5 78.7h1M55.0 74.0h1M67.6 73.9h1M52.5 90.0h1M72.7 56.5h1M52.0 80.2h1M46.7 78.7h1M66.8 58.9h1M48.5 77.2h1M55.9 75.8h1M66.0 50.8h1M68.4 73.8h1M62.9 64.1h1M59.9 102.0h1M61.0 64.3h1M54.5 71.2h1M47.3 79.5h1M66.7 67.8h1M66.8 72.4h1M64.3 66.4h1M60.7 84.5h1M70.5 59.9h1M63.7 56.5h1M64.5 87.3h1M59.9 80.1h1M60.3 74.8h1M56.3 74.4h1M65.0 98.5h1M49.6 65.3h1M49.6 80.5h1M74.2 69.7h1M64.6 77.3h1M55.8 62.3h1M55.8 53.8h1M56.0 78.4h1M67.6 57.9h1M55.3 72.0h1M61.7 71.5h1M73.3 67.3h1M64.5 63.8h1M70.5 78.3h1M61.8 70.1h1M79.3 55.1h1M62.9 65.5h1M64.9 82.7h1M65.0 80.3h1M58.1 82.0h1M63.8 68.1h1M64.5 70.7h1M48.7 83.1h1M71.8 78.7h1M54.5 71.7h1M58.2 80.4h1M62.8 57.1h1M64.8 66.3h1M53.3 74.4h1M55.7 72.5h1M52.2 61.8h1M71.0 61.0h1M73.2 69.4h1M52.9 61.1h1M64.1 73.0h1M50.7 77.8h1M66.3 68.6h1M57.5 76.9h1M55.1 77.1h1M67.6 75.8h1M51.4 90.7h1M70.4 54.2h1M67.0 72.7h1M48.7 81.4h1M44.1 88.5h1M67.5 71.7h1M54.8 75.7h1M66.8 69.2h1M50.1 64.8h1M56.7 67.5h1M67.5 84.0h1M70.1 58.1h1M63.4 69.7h1M58.0 79.3h1M64.2 47.8h1M59.0 80.7h1M70.4 64.0h1M55.7 83.6h1M52.0 72.6h1M58.3 70.4h1M68.0 62.7h1M57.9 81.9h1M55.3 75.1h1M65.5 80.9h1M48.2 73.1h1M62.6 83.6h1M64.2 44.5h1M57.3 75.9h1M57.1 90.1h1M62.5 73.8h1M69.6 45.5h1M69.9 65.2h1M54.3 78.5h1M72.7 55.9h1M54.7 68.1h1M68.4 63.4h1M80.4 50.2h1M66.4 63.7h1M57.8 70.4h1M64.0 69.5h1M70.9 67.5h1M59.0 67.5h1M74.5 66.8h1M59.8 83.4h1M66.9 67.4h1M62.7 66.3h1M71.2 77.9h1M60.0 48.6h1M52.2 103.5h1M54.6 79.2h1M55.9 92.1h1M57.3 71.8h1M80.5 67.9h1M75.2 58.0h1M63.3 79.0h1M68.2 75.8h1M63.4 65.6h1M59.0 64.2h1M74.2 66.9h1M62.9 78.1h1M59.3 94.4h1M58.5 59.6h1M69.7 52.3h1M44.4 89.5h1M63.3 61.5h1M56.2 55.7h1M66.7 76.1h1M62.2 82.2h1M61.5 77.6h1M76.6 74.2h1M60.3 89.0h1M59.9 54.3h1M76.0 77.2h1M47.0 52.8h1M49.1 71.1h1M57.8 67.1h1M53.1 77.0h1M59.4 67.9h1M55.4 82.6h1M57.4 65.6h1M55.6 55.3h1M60.4 66.7h1M64.1 52.4h1M49.5 77.0h1M74.0 50.6h1M53.9 84.4h1M66.3 87.5h1M50.0 62.6h1M67.8 72.3h1M64.0 73.6h1M61.8 74.3h1M57.5 68.2h1M63.6 68.8h1M56.5 71.3h1M57.9 85.0h1M49.5 56.8h1M67.1 82.1h1M60.7 60.0h1M60.9 54.1h1M69.7 86.6h1M57.6 77.1h1M47.0 89.4h1M54.7 86.0h1M59.3 96.7h1M55.5 75.2h1M62.8 81.8h1M65.4 53.4h1M78.6 57.5h1M69.0 57.4h1M58.5 91.7h1M60.4 77.8h1M50.6 94.0h1M56.1 67.4h1M73.0 73.2h1M57.7 68.1h1M58.3 39.1h1M59.4 84.3h1M43.7 73.8h1M67.5 71.5h1M66.7 85.5h1M70.9 69.5h1M54.0 90.5h1M81.1 58.6h1M67.0 56.9h1M57.9 68.8h1M61.6 57.8h1M48.4 65.9h1M65.4 94.7h1M62.6 72.3h1M50.7 98.3h1M61.0 44.3h1M49.1 100.2h1M57.2 78.3h1M46.6 84.0h1M59.4 88.7h1M66.0 75.1h1M59.8 86.7h1M59.5 77.9h1M65.5 61.5h1M48.8 72.5h1M66.3 73.7h1M57.7 79.8h1M44.3 90.1h1M71.1 70.9h1M48.9 72.0h1M49.3 73.1h1M72.1 80.6h1M61.4 68.6h1M63.4 59.3h1M63.8 69.1h1M53.7 63.6h1M69.9 66.3h1M66.4 86.8h1M65.4 73.9h1M69.2 68.1h1M54.3 78.6h1M66.6 69.5h1M65.8 66.5h1M65.8 81.0h1M70.0 69.5h1M51.1 102.1h1M58.7 80.7h1M56.8 77.4h1M64.1 71.1h1M60.9 83.2h1M59.8 83.6h1M53.2 74.5h1M77.1 62.7h1M60.2 73.6h1M56.9 57.7h1M64.2 85.8h1M62.0 60.5h1M59.6 82.7h1M51.2 88.1h1M44.1 69.1h1M68.7 67.3h1M56.7 56.1h1M49.8 85.8h1M68.2 93.3h1M54.4 83.4h1M64.9 71.2h1M60.7 52.4h1M66.1 62.3h1M56.5 86.9h1M64.9 93.4h1M64.1 83.8h1M63.1 55.3h1M57.7 83.6h1M61.9 87.4h1M56.9 68.5h1M62.5 82.6h1M65.2 94.2h1M56.1 81.5h1M67.2 87.7h1M73.3 65.9h1M64.6 64.9h1M73.2 53.8h1M66.8 68.7h1M66.3 64.3h1M49.9 70.5h1M62.2 44.4h1M46.3 96.7h1M78.0 52.3h1M59.9 80.4h1M48.0 67.8h1M61.3 77.3h1M58.7 55.3h1M63.1 68.7h1M62.7 71.1h1M50.4 73.5h1M65.6 68.0h1M71.8 68.7h1M66.5 99.5h1M59.3 84.6h1M65.7 74.5h1M72.7 32.3h1M56.3 73.0h1M48.5 57.4h1M54.3 89.5h1M44.5 78.2h1M65.3 50.8h1M57.2 92.5h1M61.8 73.8h1M72.0 82.1h1M53.8 70.8h1M74.1 96.3h1M73.1 79.8h1M47.3 58.6h1M55.3 87.0h1M42.7 93.1h1M68.8 77.3h1M42.7 92.9h1M56.4 85.8h1M61.6 89.1h1M56.2 101.8h1M74.5 100.1h1M63.1 66.4h1M55.1 63.8h1M72.8 92.6h1M68.9 94.2h1M75.7 86.8h1M53.2 90.7h1M51.3 82.6h1M47.8 96.2h1M58.9 64.1h1M73.4 53.6h1M73.7 90.6h1M47.5 90.9h1M61.7 98.9h1M62.1 72.5h1M73.8 53.8h1M68.5 54.7h1M51.8 55.3h1M71.7 73.3h1M66.8 63.1h1M67.0 84.7h1M45.8 76.2h1" stroke="#000" stroke-opacity="0.3" stroke-width="1" fill="none"/>
<path d="M88.1 63.2h1M87.7 65.5h1M95.0 75.0h1M91.2 39.5h1M91.5 71.5h1M85.8 57.5h1M90.2 76.6h1M93.5 77.8h1M90.6 66.5h1M88.8 62.5h1M89.6 63.7h1M92.5 54.4h1M88.9 62.8h1M87.2 66.7h1M98.2 64.5h1M93.6 55.6h1M97.5 52.5h1M90.7 61.4h1M90.3 70.7h1M84.3 63.8h1M96.6 73.5h1M93.3 62.0h1M89.5 61.2h1M95.9 60.8h1M92.5 65.6h1M90.7 55.6h1M88.4 61.2h1M90.5 58.6h1M89.8 54.5h1M92.4 51.2h1M86.2 67.9h1M88.7 57.7h1M98.8 51.8h1M86.2 58.2h1M88.1 62.5h1M89.9 75.7h1M92.3 47.5h1M97.3 58.6h1M88.2 69.3h1M93.3 61.6h1M90.1 71.0h1M94.5 64.6h1M86.3 73.4h1M89.0 66.2h1M89.7 57.5h1M92.4 43.7h1M96.3 58.2h1M91.7 56.2h1M88.7 68.4h1M92.5 58.6h1M94.1 59.5h1M86.0 68.2h1M91.3 52.7h1M95.8 75.5h1M86.1 67.9h1M88.1 55.4h1M93.8 69.9h1M99.5 70.8h1M101.6 64.7h1M91.4 62.2h1M89.1 67.2h1M90.1 66.4h1M87.2 56.6h1M81.4 67.4h1M93.0 52.7h1M90.8 63.0h1M93.8 56.4h1M91.7 57.0h1M90.6 63.8h1M92.4 76.7h1M84.7 72.9h1M92.2 58.5h1M98.9 58.9h1M99.3 51.5h1M98.7 66.3h1M89.3 68.9h1M91.7 56.0h1M89.4 63.5h1M83.5 51.5h1M97.1 55.2h1M93.1 64.0h1M93.8 70.6h1M92.1 41.3h1M92.9 53.4h1M88.6 64.9h1M85.8 63.2h1M95.4 73.7h1M93.1 63.6h1M93.3 61.3h1M85.0 72.6h1M95.9 59.5h1M87.0 70.3h1M91.9 70.9h1M91.7 60.7h1M91.3 67.7h1M88.1 62.1h1M88.9 60.1h1M94.9 57.0h1M92.2 68.2h1M88.3 61.9h1M83.1 67.8h1M90.6 71.0h1M90.4 54.2h1M92.6 62.2h1M93.9 58.1h1M95.9 55.3h1M91.4 68.6h1M86.7 78.8h1M93.3 63.4h1M93.8 65.8h1M89.7 53.2h1M91.2 66.9h1M92.3 59.8h1M87.7 56.3h1M96.7 58.7h1M94.4 55.8h1M92.2 65.0h1M84.7 62.1h1M89.9 67.1h1M86.6 65.7h1M89.2 64.3h1M90.9 62.5h1M95.1 62.7h1M92.8 62.4h1M77.6 68.8h1M93.0 66.3h1M88.0 64.8h1M92.6 72.2h1M91.1 66.8h1M94.8 55.7h1M93.9 47.6h1M95.2 57.1h1M90.2 67.5h1M86.1 66.0h1M88.4 60.3h1M90.7 50.9h1M90.5 66.8h1M90.4 66.6h1M84.5 65.9h1M82.3 78.3h1M95.1 53.0h1M89.4 61.5h1M91.9 64.3h1M85.8 71.8h1M94.5 70.2h1M94.0 71.2h1M100.9 68.6h1M91.0 63.6h1M96.5 54.5h1M88.3 55.6h1M99.3 56.7h1M89.0 63.3h1M93.3 71.3h1M91.5 61.0h1M95.4 72.9h1M92.3 57.0h1M89.6 52.1h1M88.5 56.1h1M92.1 53.1h1M91.3 54.3h1M96.1 61.3h1M90.0 69.2h1M93.0 69.5h1M88.6 66.8h1M95.2 65.4h1M89.3 70.1h1M88.4 64.8h1M89.2 68.2h1M85.3 60.3h1M86.7 60.4h1M99.9 64.9h1M89.3 69.6h1M94.4 65.6h1M83.3 64.7h1M89.2 74.2h1M95.6 62.2h1M92.8 67.2h1M94.4 71.4h1M88.2 62.9h1M98.1 63.3h1M84.9 67.7h1M84.9 68.9h1M92.3 63.7h1M91.5 64.3h1M91.7 54.7h1M80.2 69.6h1M88.7 60.8h1M92.2 65.1h1M85.6 58.5h1M89.8 69.6h1M51.5 34.8h1M66.4 45.3h1M70.9 44.6h1M57.2 33.1h1M53.0 47.3h1M48.6 26.3h1M51.9 46.0h1M71.1 30.8h1M71.0 45.2h1M56.8 27.2h1M68.4 31.9h1M46.5 45.5h1M57.2 32.5h1M62.4 28.8h1M43.2 32.3h1M55.2 22.5h1M55.0 41.8h1M53.7 39.7h1M63.4 27.1h1M43.2 39.6h1M106.3 65.2h1M86.6 96.0h1M120.6 61.8h1M105.1 80.6h1M92.5 51.0h1M92.6 84.4h1M105.9 77.1h1M82.9 60.7h1M91.9 71.9h1M94.4 98.6h1M82.6 103.3h1M88.5 96.1h1M88.7 81.3h1M95.1 51.1h1M115.2 93.6h1M89.9 91.7h1M100.0 103.3h1M79.6 69.9h1M87.9 83.4h1M114.3 95.3h1" stroke="#000" stroke-opacity="0.22" stroke-width="1" fill="none"/>
<path d="M175.3 67.5h1M177.5 58.7h1M186.8 64.0h1M177.0 85.4h1M184.5 54.1h1M179.5 60.5h1M181.3 58.0h1M181.0 67.4h1M176.8 66.9h1M172.8 61.5h1M180.5 55.6h1M175.8 69.5h1M182.4 73.6h1M190.0 59.6h1M181.1 66.1h1M172.6 66.8h1M180.9 61.8h1M180.3 52.8h1M186.6 53.4h1M176.1 67.1h1M184.9 70.4h1M181.9 66.2h1M180.4 52.9h1M179.6 64.9h1M171.2 64.6h1M178.3 68.6h1M188.0 61.8h1M176.8 75.6h1M181.6 71.4h1M181.6 55.2h1M181.3 48.4h1M172.9 63.0h1M178.0 65.8h1M187.0 57.2h1M175.1 61.5h1M176.3 62.4h1M176.1 63.5h1M176.7 67.2h1M177.1 64.2h1M176.3 71.6h1M183.7 57.0h1M172.4 63.0h1M170.3 68.8h1M176.1 65.0h1M177.7 75.4h1M172.0 71.5h1M181.2 67.4h1M182.3 45.6h1M176.6 62.0h1M177.9 61.8h1M180.5 39.5h1M175.2 60.1h1M177.7 56.9h1M175.6 54.3h1M185.7 44.4h1M177.9 75.4h1M172.6 62.4h1M177.9 56.2h1M178.5 53.9h1M182.2 53.7h1M180.9 58.0h1M176.6 62.8h1M183.7 58.1h1M188.6 67.2h1M178.2 45.5h1M181.7 51.9h1M176.1 57.5h1M179.6 46.4h1M175.6 60.0h1M190.1 47.4h1M173.7 70.1h1M178.1 57.0h1M173.3 61.6h1M174.7 56.9h1M192.6 57.7h1M186.1 65.6h1M177.0 56.6h1M173.8 61.7h1M182.8 60.7h1M180.3 52.8h1M175.8 69.7h1M184.8 47.9h1M169.3 57.8h1M180.6 64.7h1M183.1 69.9h1M173.7 63.5h1M177.3 64.9h1M179.2 51.9h1M174.2 74.2h1M187.7 58.8h1M183.2 71.5h1M183.1 56.0h1M173.1 65.1h1M181.1 69.4h1M184.7 60.5h1M184.0 46.4h1M188.0 63.8h1M173.8 69.9h1M176.5 62.8h1M175.7 58.1h1M175.9 49.4h1M169.3 64.2h1M178.3 72.3h1M179.9 55.3h1M184.3 54.9h1M177.6 64.9h1M189.5 60.8h1M179.8 64.5h1M186.3 58.2h1M185.3 58.9h1M175.3 68.3h1M174.0 75.4h1M186.3 42.8h1M180.7 60.2h1M173.4 57.3h1M176.6 65.6h1M175.7 57.9h1M175.5 60.2h1M172.8 69.7h1M181.0 68.0h1M185.4 51.0h1M176.1 61.3h1M172.7 71.9h1M188.6 50.2h1M178.7 58.4h1M181.2 61.1h1M181.2 61.2h1M177.5 66.5h1M183.3 64.9h1M182.1 72.1h1M176.7 60.4h1M179.9 60.5h1M180.6 63.0h1M169.9 62.4h1M180.9 55.1h1M185.3 48.2h1M179.8 77.9h1M180.0 66.7h1M190.0 45.0h1M176.0 68.8h1M178.2 74.0h1M175.9 54.6h1M184.7 58.4h1M178.2 53.2h1M172.3 64.1h1M177.4 71.0h1M185.4 62.2h1M178.5 57.9h1M182.7 73.9h1M179.5 59.2h1M171.8 66.7h1M176.4 54.1h1M183.6 57.0h1M170.8 61.0h1M186.8 59.5h1M171.3 65.0h1M182.7 52.3h1M183.3 67.2h1M180.6 63.3h1M174.7 62.5h1M175.8 57.5h1M172.2 73.4h1M187.5 52.7h1M189.4 45.2h1M184.5 48.4h1M180.3 64.6h1M180.2 69.0h1M179.3 64.4h1M176.4 66.9h1M180.8 52.6h1M178.8 66.2h1M180.6 53.4h1M169.1 67.2h1M180.7 72.5h1M181.2 61.9h1M183.3 52.7h1M178.2 56.0h1M178.0 73.9h1M181.6 62.1h1M175.9 68.5h1M180.6 43.7h1M185.5 61.8h1M179.2 62.5h1M177.3 78.2h1M184.0 65.9h1M177.3 60.6h1M179.3 56.8h1M185.0 66.8h1M182.3 53.1h1M185.1 55.5h1M181.0 56.1h1M181.3 60.6h1M182.3 56.7h1M177.5 64.7h1M175.9 55.5h1M182.7 61.7h1M178.4 58.8h1M177.0 60.0h1M180.1 52.4h1M169.5 71.5h1M181.0 58.5h1M172.1 62.2h1M175.1 60.4h1M177.6 65.6h1M178.7 66.9h1M175.3 65.5h1M185.3 64.5h1M187.6 49.8h1M177.4 66.2h1M185.3 54.7h1M174.8 73.0h1M180.8 67.4h1M178.5 54.8h1M183.5 43.6h1M184.8 41.4h1M187.7 64.0h1M175.8 63.9h1M182.9 49.1h1M174.8 54.9h1M188.3 48.2h1M183.4 58.8h1M175.8 63.7h1M176.9 73.2h1M186.3 52.3h1M184.8 54.5h1M171.0 65.7h1M181.7 55.8h1M180.6 52.5h1M179.0 68.0h1M170.4 62.3h1M173.7 63.9h1M173.9 68.3h1M192.4 56.7h1M181.8 46.6h1M181.9 51.6h1M177.2 56.4h1M171.5 58.6h1M180.4 45.6h1M178.1 55.1h1M174.7 56.7h1M182.4 64.8h1M172.0 53.0h1M175.5 52.0h1M182.4 59.1h1M176.2 65.0h1M180.5 63.0h1M187.8 55.5h1M189.1 61.0h1M184.9 70.5h1M182.1 63.7h1M179.3 61.6h1M178.7 68.2h1M185.1 45.1h1M179.2 60.7h1M180.2 54.7h1M180.2 60.9h1M186.9 51.9h1M173.7 67.7h1M183.2 61.6h1M180.8 52.7h1M184.0 43.9h1M189.3 51.8h1M184.3 48.5h1M173.9 53.8h1M172.0 73.3h1M185.9 56.6h1M183.7 62.9h1M187.6 58.3h1M171.5 71.6h1M172.1 66.3h1M179.3 46.4h1M175.4 66.3h1M179.5 53.0h1M183.6 55.7h1M167.0 61.9h1M171.3 65.7h1M180.2 46.8h1M178.2 69.3h1M175.2 58.7h1M186.2 53.4h1M176.6 57.2h1M167.8 64.2h1M182.0 58.2h1M177.0 67.7h1M182.6 33.5h1M177.6 74.6h1M176.0 63.1h1M180.3 55.5h1M184.1 53.6h1M182.8 51.7h1M179.9 79.2h1M179.6 75.2h1M173.7 56.5h1M183.4 61.3h1M176.8 68.5h1M172.8 64.7h1M183.4 67.2h1M180.9 55.2h1M179.6 61.3h1M180.8 58.6h1M179.0 75.2h1M165.3 63.2h1M175.6 53.3h1M178.5 61.5h1M180.2 65.9h1M177.3 62.2h1M175.5 67.5h1M176.8 68.6h1M187.2 51.8h1M174.2 55.2h1M186.1 54.0h1M174.4 41.2h1M177.8 59.9h1M177.1 50.5h1M188.7 66.9h1M172.8 49.8h1M185.5 62.4h1M180.4 66.2h1M172.9 57.6h1M182.8 67.1h1M179.6 50.4h1M178.9 50.7h1M179.8 58.6h1M177.5 70.7h1M165.8 59.4h1M173.3 65.7h1M172.7 65.5h1M166.4 62.2h1M181.9 53.7h1M178.7 58.1h1M178.2 59.6h1M169.6 66.7h1M184.0 61.5h1M187.1 61.1h1M174.5 70.7h1M183.2 67.1h1M181.2 46.6h1M180.0 54.5h1M176.2 68.1h1M183.6 70.9h1M186.1 57.7h1M169.1 54.1h1M181.7 54.4h1M173.5 79.1h1M189.6 55.2h1M180.2 69.6h1M179.3 57.7h1M180.9 63.5h1M183.7 57.0h1M172.2 61.7h1M188.5 52.2h1M177.6 64.8h1M173.3 51.6h1M191.5 60.3h1M176.7 57.3h1M184.5 44.7h1M177.8 58.2h1M171.5 56.4h1M169.2 68.2h1M181.1 53.4h1M172.9 48.5h1M184.3 67.3h1M168.7 63.8h1M175.7 65.8h1M185.1 62.6h1M189.7 52.6h1M178.4 55.2h1M171.2 62.1h1M188.2 52.5h1M175.4 58.5h1M183.2 56.0h1M174.3 57.6h1M177.3 57.8h1M183.8 55.7h1M178.4 56.4h1M186.6 49.9h1M186.3 51.9h1M182.7 56.0h1M168.2 66.0h1M179.6 68.7h1M182.4 53.7h1M187.8 62.6h1M170.1 60.9h1M173.8 72.0h1M184.4 56.2h1M182.4 63.4h1M175.8 59.8h1M181.7 64.6h1M176.5 51.4h1M177.2 68.3h1M179.3 42.3h1M177.9 70.8h1M177.7 55.6h1M181.3 61.4h1M174.6 73.9h1M184.9 57.3h1M181.9 51.4h1M181.6 73.7h1M178.3 53.6h1M186.6 54.1h1M168.1 58.0h1M174.6 63.0h1M176.7 66.8h1M178.2 69.4h1M178.6 44.1h1M179.5 51.7h1M180.0 56.1h1M179.3 49.5h1M177.6 53.7h1M179.7 58.7h1M174.8 49.7h1M182.1 73.0h1M187.9 60.1h1M177.5 68.8h1M188.8 58.5h1M177.0 60.2h1M180.6 54.8h1M180.7 67.4h1M169.7 73.6h1M180.4 49.2h1M180.1 63.6h1M184.5 52.6h1M174.2 67.1h1M181.3 52.2h1M181.6 66.7h1M192.0 55.0h1M173.2 67.7h1M179.0 66.4h1M183.1 65.9h1M176.7 82.7h1M176.3 65.0h1M181.6 56.4h1M183.4 70.6h1M178.4 55.3h1M174.7 57.2h1M174.7 69.5h1M180.6 57.8h1M170.9 64.4h1M182.2 75.8h1M176.5 56.4h1M184.7 52.2h1M175.4 62.7h1M183.6 52.2h1M185.0 48.5h1M175.0 64.1h1M178.6 66.3h1M182.6 59.5h1M175.6 55.4h1M174.4 60.6h1M174.4 54.8h1M173.8 63.7h1M176.5 64.9h1M181.9 48.5h1M174.2 71.1h1M183.6 55.6h1M188.9 61.7h1M182.4 52.1h1M176.2 49.1h1M174.8 60.5h1M187.0 61.6h1M185.2 66.7h1M183.1 70.5h1M171.0 72.2h1M181.3 52.7h1M179.5 59.4h1M178.8 58.8h1M175.4 67.6h1M175.4 58.3h1M188.4 59.6h1M172.5 72.2h1M178.6 62.7h1M176.1 58.7h1M179.1 60.8h1M186.0 63.5h1M172.8 57.3h1M177.9 73.4h1M175.5 62.2h1M174.4 70.4h1M175.8 60.2h1M182.3 64.5h1M183.7 55.3h1M172.6 59.8h1M188.0 56.8h1M187.7 52.5h1M181.6 58.9h1M184.9 62.5h1M188.3 65.8h1M179.7 54.1h1M171.9 58.1h1M176.0 65.6h1M181.7 40.5h1M181.9 53.6h1M181.3 63.7h1M178.4 77.2h1M185.5 46.1h1M179.8 61.2h1M178.7 54.7h1M181.8 60.3h1M180.1 63.8h1M183.3 59.0h1M174.3 67.2h1M183.6 65.6h1M172.3 56.1h1M184.8 73.2h1M174.2 55.9h1M177.5 67.7h1M190.2 52.0h1M176.9 62.8h1M179.6 44.3h1M184.7 49.1h1M185.3 61.7h1M176.6 55.5h1M175.4 72.2h1M186.7 58.7h1M178.7 82.5h1M187.7 58.1h1M182.2 54.7h1M182.1 57.8h1M177.1 65.1h1M177.5 58.8h1M168.9 69.5h1M182.9 57.4h1M174.2 57.9h1M179.6 53.4h1M181.1 78.7h1M185.7 75.3h1M178.5 55.8h1M170.0 77.4h1M189.2 51.2h1M172.1 55.9h1M176.9 63.0h1M179.8 56.8h1M172.6 55.4h1M184.1 67.6h1M179.7 73.0h1M188.0 43.8h1M181.4 73.0h1M176.0 75.2h1M183.8 65.5h1M183.1 51.8h1M188.2 48.3h1M173.5 62.7h1M183.6 41.1h1M179.7 57.2h1M170.7 61.7h1M178.3 61.4h1M179.3 52.2h1M170.3 70.8h1M180.2 61.2h1M179.3 54.4h1M181.2 56.6h1M183.2 47.5h1M182.2 60.3h1M178.1 49.8h1M176.7 63.7h1M179.7 78.8h1M182.0 52.3h1M193.6 36.7h1M191.5 47.4h1M175.0 51.4h1M185.0 49.4h1M176.4 69.7h1M185.6 56.2h1M177.3 58.4h1M177.7 53.5h1M182.5 62.2h1M177.3 72.1h1M170.0 74.1h1M175.7 69.8h1M180.8 55.0h1M182.0 53.7h1M180.9 62.8h1M179.2 62.5h1M179.2 51.7h1M177.1 50.0h1M170.7 59.5h1M185.1 67.0h1M185.9 59.7h1M170.8 70.2h1M184.2 58.2h1M173.7 51.6h1M180.2 56.5h1M181.7 60.3h1M170.7 60.1h1M169.9 66.5h1M175.2 70.4h1M179.3 49.4h1M172.0 64.6h1M175.1 73.8h1M176.9 63.9h1M179.0 68.6h1M178.7 70.5h1M181.1 66.8h1M179.0 68.0h1M180.0 57.0h1M184.2 48.2h1M180.1 68.4h1M174.6 66.0h1M180.1 60.7h1M175.5 44.8h1M183.7 64.2h1M180.3 62.2h1M177.5 46.9h1M182.9 61.4h1M169.7 62.3h1M177.5 68.5h1M188.1 61.9h1M175.5 48.0h1M186.0 53.9h1M182.6 47.8h1M178.5 65.0h1M186.0 49.6h1M187.1 48.7h1M173.1 63.5h1M177.0 44.0h1M176.9 62.7h1M174.3 66.6h1M190.1 64.1h1M176.6 60.2h1M183.8 61.0h1M175.3 66.1h1M178.0 75.0h1M187.8 57.6h1M186.1 73.0h1M180.2 53.4h1M176.8 63.0h1M179.6 71.0h1M174.3 64.1h1M181.0 56.7h1M176.6 64.6h1M184.1 66.3h1M178.4 51.7h1M185.4 62.9h1M186.6 65.4h1M183.4 58.1h1M177.8 77.7h1M182.7 58.8h1M182.9 57.6h1M182.0 65.8h1M174.5 58.4h1M177.3 68.6h1M169.9 54.6h1M178.8 78.0h1M192.3 64.9h1M174.1 71.9h1M180.2 66.0h1M190.2 52.1h1M182.3 70.1h1M177.5 70.3h1M182.5 60.1h1M183.3 68.7h1M178.9 61.0h1M173.6 60.9h1M182.6 55.5h1M188.9 59.8h1M175.7 66.7h1M183.2 61.7h1M183.0 63.3h1M172.3 54.3h1M168.1 62.6h1M176.6 62.1h1M181.5 56.2h1M184.8 62.9h1M175.1 54.0h1M178.9 66.3h1M182.6 47.1h1M180.0 62.2h1M180.8 54.3h1M178.0 57.6h1M174.1 63.5h1M178.3 54.6h1M182.5 56.9h1M169.3 48.9h1M171.1 66.1h1M182.5 63.0h1M192.8 43.4h1M184.4 50.6h1M180.7 64.3h1M177.9 78.7h1M182.1 61.4h1M171.5 66.7h1M177.4 65.4h1M178.5 57.3h1M183.2 58.9h1M175.8 69.3h1M172.7 71.6h1M178.2 52.4h1M186.3 46.9h1M182.0 53.8h1M186.5 55.5h1M177.0 58.9h1M186.7 67.7h1M176.6 61.2h1M169.6 63.4h1M179.4 64.8h1M174.5 63.1h1M182.4 58.1h1M179.5 64.3h1M180.7 69.3h1M175.1 67.6h1M177.6 58.8h1M186.0 72.5h1M175.0 46.2h1M173.7 57.6h1M174.0 56.1h1M183.1 56.8h1M189.1 49.2h1M182.4 65.5h1M177.5 63.9h1M169.8 61.6h1M171.4 52.7h1M181.0 63.1h1M172.2 57.2h1M180.7 66.5h1M189.4 54.5h1M176.7 75.2h1M181.5 65.4h1M174.2 73.3h1M178.0 54.1h1M173.8 61.8h1M175.9 49.9h1M175.3 67.0h1M188.1 66.2h1M176.1 57.1h1M182.3 56.6h1M179.6 58.2h1M175.0 55.1h1M174.2 69.1h1M179.6 70.1h1M189.9 47.5h1M181.9 57.6h1M171.4 63.8h1M173.8 54.0h1M179.3 58.0h1M181.4 54.8h1M176.8 58.8h1M173.2 73.2h1M185.8 56.7h1M178.1 48.4h1M180.0 68.8h1M189.9 67.9h1M173.0 55.7h1M185.0 67.2h1M175.2 74.8h1M183.1 73.6h1M173.3 62.4h1M171.5 72.6h1M170.5 79.4h1M185.2 43.9h1M173.2 60.8h1M177.9 57.2h1M183.4 69.1h1M176.2 55.8h1M182.7 49.0h1M181.2 56.9h1M185.1 52.4h1M181.6 64.3h1M178.8 63.7h1M178.5 46.2h1M174.7 67.9h1M183.9 66.3h1M185.7 76.3h1M181.2 47.6h1M178.0 58.5h1M184.0 56.3h1M184.7 55.9h1M183.4 45.4h1M180.1 54.8h1M180.3 60.5h1M180.7 61.4h1M176.3 66.8h1M172.2 63.4h1M175.1 65.2h1M171.6 59.2h1M173.3 60.7h1M178.0 67.1h1M183.4 52.4h1M175.9 63.6h1M175.1 47.7h1M175.2 49.4h1M177.8 65.5h1M186.3 64.8h1M180.2 56.6h1M181.8 53.2h1M182.3 68.4h1M189.0 50.9h1M185.0 72.5h1M181.7 64.9h1M193.3 55.0h1M170.3 71.4h1M184.5 52.2h1M164.8 58.4h1M179.5 56.8h1M184.9 84.8h1M170.2 78.9h1M180.3 60.9h1M179.9 54.3h1M175.2 66.9h1M168.6 75.0h1M181.1 44.2h1M187.8 64.0h1M182.5 52.6h1M179.8 54.4h1M181.5 69.0h1M187.0 61.9h1M176.8 61.9h1M179.2 57.5h1M174.3 61.5h1M181.4 59.0h1M183.8 46.3h1M176.9 74.8h1M183.0 42.2h1M176.4 66.4h1M170.3 82.1h1M171.7 59.6h1M176.6 54.7h1M171.1 73.7h1M189.7 58.6h1M183.3 51.1h1M176.7 64.0h1M179.3 52.2h1M184.8 58.8h1M174.1 66.6h1M180.4 57.0h1M176.4 60.6h1M187.6 63.9h1M175.2 47.5h1M179.8 60.3h1M172.9 58.1h1M179.6 61.7h1M178.9 66.3h1M165.9 77.0h1M181.3 60.3h1M176.6 61.1h1M184.7 60.7h1M181.1 53.4h1M182.9 65.7h1M184.7 57.7h1M174.5 61.3h1M176.8 58.1h1M186.1 52.9h1M176.7 78.4h1M187.4 51.8h1M174.0 62.8h1M186.4 54.6h1M174.0 58.3h1M176.5 72.7h1M173.9 65.8h1M185.2 58.7h1M170.8 75.4h1M182.3 50.4h1M181.3 64.1h1M170.6 67.4h1M186.5 62.7h1M181.8 52.6h1M179.9 52.0h1M168.4 67.0h1M184.1 59.8h1M180.0 57.6h1M183.2 65.3h1M172.4 58.6h1M179.7 48.9h1M180.2 57.5h1M183.1 52.7h1M183.3 51.3h1M175.7 63.3h1M177.0 54.2h1M180.5 53.0h1M172.8 66.3h1M187.1 64.4h1M181.3 54.6h1M185.7 70.4h1M178.5 62.6h1M184.3 65.8h1M177.5 58.4h1M175.0 57.5h1M175.7 68.4h1M177.3 84.6h1M179.1 43.4h1M171.5 59.2h1M180.6 59.5h1M174.9 52.7h1M174.6 64.1h1M189.2 65.9h1M178.5 62.0h1M181.6 65.7h1M191.2 42.5h1M178.1 47.0h1M182.1 52.4h1M187.3 52.5h1M173.1 52.8h1M177.2 58.7h1M180.5 57.1h1M174.4 49.9h1M176.9 66.1h1M178.1 57.4h1M179.4 60.8h1M181.4 52.2h1M171.4 55.8h1M165.7 78.5h1M169.4 54.2h1M179.8 57.2h1M175.8 59.3h1M182.0 65.0h1M180.0 57.7h1M178.9 64.6h1M182.2 51.2h1M172.8 61.5h1M175.2 58.3h1M179.6 73.0h1M168.1 62.2h1M185.9 68.9h1M172.8 59.3h1M179.7 70.2h1M181.2 57.7h1M181.0 62.8h1M185.4 49.3h1M172.3 59.6h1M187.6 59.5h1M175.0 53.5h1M185.7 61.1h1M179.9 66.2h1M189.9 53.7h1M167.0 70.1h1M183.4 58.7h1M178.2 63.2h1M183.7 65.5h1M174.7 78.1h1M172.7 69.4h1M171.0 71.0h1M179.3 60.7h1M182.8 46.3h1M181.7 58.4h1M186.7 60.8h1M180.3 59.7h1M178.9 61.4h1M183.7 62.5h1M179.6 60.5h1M182.6 62.0h1M182.4 65.6h1M181.0 66.0h1M185.2 46.0h1M173.5 59.3h1M181.2 54.8h1M178.5 52.4h1M189.0 59.3h1M178.7 56.9h1M175.8 70.6h1M183.7 56.3h1M171.5 67.6h1M171.9 66.5h1M179.7 63.1h1M185.1 45.9h1M175.2 46.6h1M186.9 49.8h1M184.2 58.4h1M189.7 58.7h1M173.1 51.5h1M182.2 76.6h1M185.2 63.2h1M175.2 62.1h1M179.8 63.7h1M176.8 58.1h1M183.5 57.3h1M171.6 65.9h1M172.7 75.3h1M176.0 59.3h1M177.0 65.0h1M181.9 61.2h1M183.4 54.7h1M177.6 50.3h1M182.5 56.4h1M173.3 67.6h1M180.7 57.2h1M173.4 69.4h1M187.1 49.9h1M185.7 62.0h1M176.1 67.3h1M180.1 52.5h1M179.1 70.1h1M171.5 44.1h1M173.7 57.4h1M171.8 60.6h1M182.7 39.2h1M176.0 59.1h1M174.5 67.5h1M188.0 61.6h1M187.3 60.7h1M176.8 68.9h1M170.7 61.5h1M187.7 31.1h1M176.3 57.4h1M172.9 63.4h1M180.0 51.9h1M179.7 61.9h1M177.1 70.4h1M180.8 62.5h1M178.4 63.6h1M185.1 58.0h1M182.0 67.4h1M175.8 67.9h1M180.2 59.7h1M168.2 78.4h1M183.1 63.4h1M184.5 68.3h1M174.9 74.7h1M180.7 56.3h1M184.3 59.9h1M179.9 67.7h1M180.9 51.9h1M167.6 76.7h1M172.0 65.5h1M176.5 55.9h1M188.3 42.1h1M174.5 70.2h1M186.3 49.7h1M181.4 70.0h1M188.4 67.6h1M180.6 65.7h1M178.6 55.4h1M184.2 63.5h1M180.2 56.5h1M188.5 59.8h1M183.8 54.0h1M172.7 55.5h1M177.3 58.7h1M178.2 53.9h1M175.4 55.4h1M178.1 52.4h1M181.8 61.6h1M178.4 63.0h1M190.2 55.0h1M170.3 73.1h1M185.4 56.7h1M178.4 64.3h1M189.4 65.5h1M173.1 60.2h1M169.2 70.6h1M180.7 49.8h1M187.2 46.3h1M183.2 58.5h1M185.6 55.8h1M174.1 67.2h1M178.3 64.9h1M172.8 60.5h1M185.8 68.7h1M180.7 42.6h1M180.0 57.5h1M180.4 68.2h1M186.8 63.6h1M178.9 56.5h1M171.9 80.9h1M178.1 52.8h1M184.7 54.7h1M173.7 73.9h1M183.6 59.2h1M179.5 59.3h1M176.9 62.7h1M174.2 58.8h1M179.3 55.0h1M178.2 55.6h1M180.9 57.5h1M183.7 54.3h1M180.8 53.0h1M177.8 60.5h1M175.4 70.1h1M185.6 53.2h1M178.4 67.6h1M174.8 52.5h1M181.6 58.3h1M182.3 55.1h1M165.3 70.9h1M182.5 44.4h1M188.4 52.6h1M174.1 58.0h1M182.6 49.8h1M182.8 57.2h1M186.4 54.7h1M168.9 69.4h1M179.6 59.4h1M180.6 54.2h1M188.2 65.1h1M188.2 51.6h1M178.2 51.2h1M178.7 61.1h1M172.3 67.7h1M173.9 57.4h1M182.8 57.0h1M177.0 61.8h1M183.0 56.6h1M174.4 55.8h1M184.6 76.3h1M175.8 65.0h1M170.8 73.5h1M181.0 67.4h1M165.8 78.9h1M175.8 62.9h1M175.1 65.8h1M176.4 73.2h1M183.0 51.4h1M183.7 66.6h1M175.7 55.1h1M174.9 64.0h1M184.7 62.7h1M176.7 65.8h1M173.9 57.8h1M180.8 65.2h1M173.4 48.8h1M179.7 54.5h1M185.4 51.4h1M185.7 45.7h1M174.3 62.3h1M178.1 72.5h1M184.4 57.8h1M173.1 55.5h1M177.0 63.3h1M183.2 60.4h1M184.2 49.9h1M169.1 75.0h1M170.1 75.9h1M177.2 70.2h1M183.8 63.9h1M179.9 51.4h1M181.7 53.2h1M186.7 59.0h1M175.9 69.3h1M179.6 47.3h1M180.4 59.0h1M172.0 61.7h1M172.9 64.3h1M183.2 52.5h1M175.5 53.2h1M181.2 56.8h1M178.6 51.2h1M187.7 56.3h1M179.5 45.0h1M169.5 67.0h1M184.5 53.9h1M176.1 56.5h1M189.9 53.2h1M178.6 60.6h1M184.6 52.0h1M180.8 49.4h1M178.5 57.3h1M176.3 64.5h1M180.8 63.5h1M178.7 63.0h1M171.4 64.9h1M178.3 47.9h1M188.3 47.8h1M170.3 77.3h1M178.2 63.8h1M175.9 60.9h1M181.9 50.5h1M178.5 51.9h1M183.6 67.9h1M173.4 61.0h1M183.7 63.4h1M175.5 60.6h1M185.4 57.1h1M177.2 61.6h1M190.8 67.5h1M186.8 64.6h1M180.7 62.3h1M174.8 76.6h1M177.9 59.6h1M171.8 61.6h1M176.1 72.3h1M177.1 65.3h1M176.4 61.1h1M185.9 69.0h1M174.0 68.3h1M173.1 61.0h1M180.7 69.3h1M182.2 53.4h1M191.4 36.5h1M178.6 49.6h1M189.8 54.7h1M186.6 66.2h1M171.9 65.0h1M175.4 59.6h1M175.7 53.8h1M170.4 56.8h1M184.0 62.4h1M180.0 63.0h1M176.9 50.3h1M176.3 70.5h1M178.7 57.9h1M182.3 69.9h1M175.0 69.1h1M182.5 61.9h1M174.3 62.7h1M180.5 43.5h1M180.6 54.0h1M177.8 64.1h1M180.0 62.9h1M172.5 80.2h1M174.9 58.4h1M189.0 67.1h1M187.0 47.1h1M178.4 58.2h1M180.7 49.0h1M180.3 67.9h1M173.1 66.8h1M175.5 46.7h1M179.6 61.2h1M173.1 56.2h1M177.1 61.7h1M188.8 47.1h1M181.3 67.7h1M180.4 55.2h1M177.3 61.9h1M172.3 71.5h1M188.3 55.4h1M182.3 45.5h1M169.7 52.0h1M172.7 60.6h1M173.7 51.5h1M171.4 66.9h1M184.1 58.7h1M185.2 70.4h1M175.8 57.9h1M180.0 57.7h1M183.0 54.5h1M190.3 45.2h1M181.2 66.6h1M176.5 53.0h1M173.5 65.0h1M175.8 80.6h1M184.4 64.0h1M178.1 64.9h1M185.6 56.3h1M175.2 56.4h1M188.9 44.7h1M190.2 52.4h1M184.8 50.2h1M183.4 57.8h1M179.1 73.4h1M178.7 68.7h1M179.9 69.4h1M189.5 68.1h1M182.1 59.7h1M175.6 67.0h1M177.7 60.5h1M174.0 62.5h1M179.4 53.9h1M178.8 67.3h1M176.3 66.5h1M173.6 63.0h1M174.8 60.9h1M177.6 70.7h1M171.7 60.5h1M179.1 63.8h1M182.1 57.7h1M182.6 59.4h1M174.3 63.1h1M178.9 55.1h1M182.3 61.4h1M187.3 55.0h1M175.7 65.2h1M174.0 53.9h1M178.8 71.1h1M173.4 63.8h1M183.8 55.0h1M180.1 52.8h1M176.9 62.2h1M170.6 55.0h1M180.7 66.9h1M176.9 66.4h1M182.0 60.3h1M172.8 62.4h1M182.4 40.0h1M175.5 44.5h1M178.6 59.3h1M193.5 48.9h1M177.1 51.3h1M173.7 65.5h1M179.1 64.8h1M176.1 66.2h1M189.7 51.2h1M170.0 73.4h1M184.3 65.3h1M187.2 65.9h1M186.8 59.8h1M175.6 66.6h1M184.5 53.4h1M173.2 74.5h1M182.6 60.0h1M185.6 68.0h1M186.3 61.5h1M180.7 57.4h1M173.0 61.1h1M184.9 54.9h1M179.9 52.6h1M174.9 67.6h1M178.4 62.8h1M177.6 51.4h1M181.2 65.2h1M191.8 56.8h1M176.7 55.1h1M172.9 67.3h1M180.6 60.3h1M176.2 60.0h1M178.4 61.7h1M181.1 56.0h1M171.8 64.9h1M182.6 48.8h1M178.7 61.7h1M180.7 51.2h1M178.6 58.7h1M176.1 54.4h1M184.5 60.4h1M185.1 52.2h1M187.2 60.5h1M187.5 57.1h1M171.1 68.0h1M180.1 53.8h1M173.8 62.3h1M177.6 47.1h1M173.1 57.5h1M189.1 65.2h1M183.2 40.8h1M184.1 70.7h1M168.8 64.3h1M175.2 56.1h1M180.7 73.3h1M172.5 64.4h1M178.8 58.8h1M182.6 51.9h1M188.6 49.8h1M189.0 48.4h1M181.9 60.7h1M172.2 57.8h1M179.6 70.6h1M169.4 77.4h1M175.7 70.2h1M177.7 68.8h1M176.6 61.2h1M166.9 63.5h1M173.5 57.8h1M180.2 63.2h1M185.2 53.4h1M176.5 46.8h1M188.2 57.6h1M175.2 55.6h1M177.9 56.5h1M182.5 67.0h1M173.7 60.1h1M186.5 68.6h1M180.2 67.9h1M185.1 60.8h1M174.2 61.1h1M172.9 63.8h1M186.8 40.7h1M184.2 64.8h1M180.1 55.0h1M182.1 56.0h1M189.7 54.2h1M178.3 62.7h1M184.4 63.6h1M183.8 58.6h1M178.6 52.5h1M185.9 61.5h1M185.3 54.5h1M176.9 62.0h1M175.8 66.6h1M172.5 58.7h1M178.7 50.3h1M182.7 59.4h1M169.5 61.9h1M183.6 53.6h1M183.8 64.0h1M177.2 52.0h1M171.0 58.3h1M185.1 64.5h1M180.9 68.1h1M174.0 71.5h1M189.5 55.7h1M183.9 58.0h1M172.5 43.4h1M183.6 76.4h1M188.3 42.3h1M180.6 60.3h1M176.5 59.2h1M178.6 60.3h1M184.1 56.3h1M184.5 53.7h1M183.2 70.0h1M173.0 81.1h1M177.7 57.0h1M179.0 44.3h1M174.0 68.6h1M184.0 58.4h1M182.6 60.6h1M174.7 64.8h1M173.4 57.3h1M177.9 58.3h1M176.4 53.6h1M175.3 63.6h1M173.7 61.7h1M172.4 60.3h1M183.7 57.3h1M178.4 60.2h1M172.6 65.7h1M174.6 60.7h1M177.0 69.6h1M177.3 59.9h1M176.9 66.5h1M175.5 65.0h1M183.0 60.0h1M178.4 53.7h1M177.0 49.4h1M184.8 63.7h1M185.9 42.4h1M176.6 62.6h1M175.5 69.4h1M174.7 62.5h1M178.7 50.0h1M187.4 48.7h1M178.2 54.6h1M168.8 61.2h1M178.7 57.9h1M177.2 56.4h1M173.6 54.4h1M175.9 77.8h1M167.6 47.4h1M180.9 50.0h1M171.8 59.3h1M180.0 69.1h1M177.2 65.9h1M188.0 64.6h1M175.5 51.6h1M172.8 62.3h1M172.6 69.9h1M182.3 52.1h1M180.3 55.0h1M178.6 63.7h1M187.9 63.9h1M185.5 47.3h1M171.6 52.8h1M189.9 65.0h1M181.0 67.7h1M180.5 50.5h1M176.6 61.4h1M181.4 54.4h1M188.5 50.8h1M191.1 64.4h1M175.7 61.8h1M174.6 60.8h1M177.9 63.5h1M174.2 51.2h1M172.2 69.9h1M180.6 63.4h1M184.2 68.7h1M176.9 64.1h1M184.8 61.8h1M180.1 58.2h1M178.7 64.8h1M178.7 56.8h1M170.7 57.8h1M183.3 66.2h1M182.5 49.5h1M182.2 79.6h1M190.6 65.6h1M182.8 65.1h1M184.0 67.2h1M177.3 50.0h1M195.7 54.9h1M173.1 60.2h1M178.1 57.7h1M170.6 70.2h1M172.9 56.2h1M184.0 52.9h1M185.2 63.9h1M180.1 68.5h1M174.3 70.2h1M178.4 54.7h1M181.9 62.3h1M189.1 50.8h1M179.2 56.5h1M183.5 74.0h1M174.0 42.9h1M181.2 53.7h1M182.5 55.5h1M178.7 61.9h1M184.5 62.5h1M176.1 61.6h1M183.8 56.4h1M181.6 57.6h1M188.1 50.9h1M178.8 58.5h1M172.3 52.6h1M174.7 63.3h1M177.9 58.5h1M188.8 42.9h1M190.6 60.8h1M177.8 59.9h1M186.2 52.4h1M187.1 55.3h1M175.3 62.2h1M177.9 66.0h1M176.9 51.2h1M171.7 62.4h1M188.0 46.5h1M174.2 56.9h1M173.7 67.2h1M173.5 58.2h1M184.3 64.0h1M179.7 60.5h1M172.7 75.9h1M175.7 60.5h1M175.4 70.8h1M174.1 67.3h1M174.8 72.4h1M177.6 52.2h1M173.0 55.6h1M183.2 56.9h1M182.3 64.7h1M177.2 67.1h1M183.4 47.6h1M181.7 70.7h1M179.3 55.9h1M166.0 71.3h1M182.3 74.2h1M176.0 56.9h1M188.9 54.0h1M179.3 67.5h1M176.8 73.5h1M177.3 44.5h1M176.4 59.0h1M179.4 61.3h1M184.0 59.7h1M185.4 58.2h1M186.9 54.4h1M179.4 66.2h1M174.4 62.0h1M185.5 46.1h1M169.6 56.8h1M182.2 63.4h1M176.2 61.1h1M181.5 48.8h1M177.9 62.8h1M183.5 63.8h1M180.3 56.0h1M177.3 62.8h1M182.1 47.2h1M173.6 53.1h1M183.2 59.1h1M183.9 51.3h1M182.2 56.6h1M191.4 55.5h1M176.0 57.7h1M180.2 55.8h1M184.4 56.8h1M177.6 58.6h1M174.2 56.2h1M175.8 57.0h1M180.9 57.2h1M173.1 60.2h1M176.2 59.0h1M182.1 62.6h1M175.7 51.3h1M187.9 55.5h1M183.3 52.4h1M187.1 63.8h1M171.4 60.5h1M180.8 60.2h1M171.0 66.4h1M184.7 45.7h1M178.5 53.6h1M174.6 71.6h1M179.5 49.3h1M173.9 73.7h1M178.6 62.6h1M175.2 67.8h1M182.0 65.9h1M183.6 60.6h1M169.2 57.5h1M176.8 76.0h1M185.5 55.2h1M170.8 58.2h1M179.9 64.7h1M181.1 49.5h1M174.2 63.5h1M185.8 54.1h1M180.3 76.0h1M170.1 65.1h1M171.9 71.3h1M196.9 46.9h1M173.0 68.8h1M181.6 59.9h1M170.7 61.6h1M175.0 62.5h1M175.4 74.1h1M167.5 68.8h1M187.4 50.4h1M183.4 49.7h1M177.8 63.4h1M179.2 71.9h1M178.5 57.9h1M174.0 74.3h1M190.0 50.4h1M179.8 53.3h1M182.1 60.2h1M184.6 60.6h1M166.8 61.9h1M168.9 77.3h1M178.8 71.9h1M181.9 52.3h1M180.9 56.5h1M177.5 58.4h1M183.7 65.3h1M178.4 62.4h1M186.8 52.9h1M179.4 63.8h1M177.3 68.2h1M180.0 58.0h1M181.3 59.7h1M169.1 78.2h1M177.1 59.1h1M175.7 67.3h1M182.2 47.9h1M175.4 64.6h1M178.5 70.1h1M181.0 69.2h1M184.2 54.4h1M181.4 52.4h1M174.5 73.6h1M173.7 53.2h1M181.2 71.3h1M186.6 59.2h1M181.2 55.5h1M184.2 58.5h1M178.2 60.3h1M178.6 57.6h1M181.7 41.0h1M169.4 69.9h1M180.0 51.9h1M178.6 58.9h1M173.2 56.1h1M176.8 58.9h1M184.8 53.2h1M171.6 68.4h1M186.2 57.9h1M180.5 54.4h1M171.1 48.4h1M173.4 63.0h1M179.3 69.1h1M181.2 58.7h1M181.8 62.4h1M178.5 53.6h1M177.3 51.9h1M177.6 45.0h1M173.5 60.9h1M185.4 62.1h1M185.6 68.8h1M184.6 50.3h1M181.9 66.3h1M168.5 80.9h1M181.5 53.0h1M182.4 40.5h1M174.9 70.2h1M188.6 58.6h1M175.5 74.0h1M179.3 49.8h1M172.4 62.0h1M185.0 55.8h1M181.9 56.3h1M181.2 52.7h1M184.9 56.2h1M184.9 51.3h1M182.7 60.8h1M167.1 69.5h1M184.0 48.3h1M173.9 67.5h1M179.2 61.6h1M181.9 67.8h1M188.0 77.7h1M184.2 71.2h1M173.1 52.7h1M176.4 69.8h1M178.0 57.7h1M180.0 60.6h1M176.6 69.2h1M182.0 42.0h1M179.8 69.2h1M187.5 51.7h1M177.3 65.1h1M178.8 58.5h1M185.3 59.0h1M180.6 56.2h1M187.1 64.7h1M185.4 73.0h1M181.5 54.9h1M185.9 69.0h1M186.6 52.5h1M176.2 41.6h1M178.1 59.1h1M177.7 66.1h1M183.1 57.1h1" stroke="#000" stroke-opacity="0.42" stroke-width="1" fill="none"/>
<path d="M167.1 68.2h1M183.6 62.1h1M192.0 40.6h1M168.9 66.3h1M183.0 28.9h1M183.2 67.5h1M188.5 64.3h1M168.1 82.1h1M169.0 63.9h1M184.5 80.2h1M177.5 64.4h1M175.2 77.0h1M169.2 67.1h1M171.0 55.1h1M179.7 49.9h1M157.0 98.2h1M172.0 63.0h1M194.1 45.8h1M191.8 40.6h1M178.1 48.4h1M179.1 49.4h1M167.1 66.8h1M180.2 68.8h1M168.9 67.5h1M187.2 57.7h1M182.3 71.6h1M173.9 52.8h1M163.6 65.6h1M176.0 84.5h1M176.4 82.2h1M163.7 59.5h1M186.0 78.8h1M178.0 68.9h1M162.8 75.7h1M191.3 97.3h1M170.1 69.7h1M163.6 63.4h1M194.9 52.2h1M176.4 80.2h1M179.6 83.5h1M172.7 80.6h1M186.0 51.1h1M164.8 70.5h1M179.3 94.1h1M179.5 61.6h1M183.1 51.0h1M173.4 79.1h1M176.6 70.2h1M191.2 34.1h1M176.3 64.4h1M167.2 76.6h1M166.2 95.0h1M157.6 87.0h1M158.7 78.3h1M191.5 51.5h1M187.9 86.9h1M161.5 54.2h1M169.9 66.5h1M168.2 93.4h1M184.9 53.1h1M166.4 88.6h1M182.3 82.1h1M169.6 68.3h1M159.2 78.1h1M180.1 82.8h1M170.8 96.9h1M182.5 72.1h1M179.0 87.2h1M199.8 51.0h1M170.3 92.3h1M177.1 72.1h1M179.3 84.9h1M197.3 37.9h1M169.0 81.5h1M180.9 58.6h1M182.9 82.4h1M186.5 63.4h1M185.6 74.0h1M167.1 73.4h1M166.9 66.2h1M187.4 52.2h1M171.5 93.6h1M177.9 55.9h1M174.5 61.7h1M176.1 69.7h1M172.0 59.9h1M174.9 85.9h1M178.7 77.3h1M165.5 73.6h1M181.9 58.7h1M177.5 57.6h1M184.7 76.7h1M182.8 97.0h1M178.7 61.3h1M181.8 68.8h1M175.9 80.7h1M159.8 79.1h1M178.6 66.2h1M183.7 60.6h1M185.6 60.3h1M181.6 86.7h1M183.7 28.9h1M176.9 88.6h1M188.0 57.7h1M173.2 43.8h1M181.9 64.4h1M175.6 49.0h1M174.4 67.8h1M175.3 71.0h1M163.6 67.6h1M177.4 69.6h1M149.7 67.4h1M169.5 77.7h1M185.1 84.8h1M179.4 55.1h1M203.3 66.8h1M176.5 84.0h1M185.4 80.6h1M180.6 52.6h1M173.7 58.4h1M176.7 93.7h1M181.4 44.5h1M161.9 73.0h1M177.0 35.3h1M171.7 82.6h1M182.3 51.4h1M177.1 69.3h1M180.2 56.5h1M177.1 66.5h1M182.3 87.8h1M164.6 76.4h1M175.5 75.4h1M169.7 54.1h1M173.2 87.8h1M170.6 61.2h1M173.7 85.8h1M164.7 67.8h1M184.2 84.7h1M180.4 86.5h1M181.6 94.2h1M178.9 44.4h1M178.8 80.1h1M176.0 88.1h1M183.8 51.8h1M177.2 63.9h1M175.1 52.7h1M183.3 45.8h1M163.8 70.4h1M177.0 75.8h1M170.3 47.6h1M171.5 69.4h1M172.2 86.4h1M180.3 81.8h1M155.2 92.7h1M176.6 60.7h1M170.5 65.2h1M167.4 82.7h1M170.7 68.1h1M169.1 73.3h1M169.7 63.3h1M149.6 93.9h1M177.6 69.5h1M175.5 53.5h1M161.6 82.5h1M175.5 56.7h1M180.4 54.5h1M162.4 69.2h1M180.0 80.4h1M179.5 79.2h1M177.7 94.9h1M196.3 30.8h1M169.3 61.8h1M170.1 75.3h1M163.1 62.2h1M179.3 83.1h1M183.0 68.4h1M172.1 54.3h1M174.9 89.5h1M177.7 68.7h1M181.1 82.9h1M187.3 64.1h1M180.6 75.5h1M169.9 68.0h1M164.7 66.8h1M177.6 72.0h1M172.2 56.8h1M166.4 86.8h1M163.9 97.7h1M188.6 31.3h1M169.0 78.6h1M175.7 41.0h1M176.0 70.5h1M168.8 78.2h1M164.1 91.7h1M192.5 53.0h1M181.0 74.5h1M179.7 62.5h1M185.3 73.4h1M177.7 60.3h1M182.8 74.3h1M169.4 76.2h1M172.3 72.0h1M184.7 51.4h1M172.8 69.2h1M185.9 49.4h1M192.0 40.6h1M172.2 71.0h1M177.2 73.5h1M183.7 58.5h1M172.3 43.2h1M166.8 65.7h1M168.5 82.7h1M167.3 76.5h1M179.1 93.3h1M182.7 75.6h1M155.7 80.4h1M181.0 79.4h1M177.6 77.9h1M182.8 87.4h1M186.4 64.8h1M185.2 75.6h1M173.7 67.0h1M174.8 78.4h1M164.7 79.8h1M182.7 68.5h1M181.9 74.9h1M174.2 43.5h1M171.0 63.3h1M175.7 78.7h1M184.3 57.9h1M192.7 63.3h1M183.4 76.5h1M186.4 49.0h1M168.7 94.6h1M164.1 70.0h1M182.2 71.4h1M174.6 72.4h1M178.5 46.5h1M173.5 82.8h1M185.8 53.9h1M173.7 67.0h1M188.4 52.9h1M172.4 94.8h1M174.9 58.9h1M169.6 87.1h1M174.0 95.5h1M162.1 72.9h1M185.5 71.7h1M169.3 86.7h1M185.6 43.1h1M176.1 77.4h1M172.9 55.7h1M164.8 67.1h1M159.5 88.9h1M182.6 57.4h1M188.7 60.8h1M178.9 68.8h1M182.0 64.1h1M170.7 83.9h1M176.6 71.3h1M173.0 79.6h1M179.5 65.2h1M185.3 62.1h1M186.2 62.9h1M190.5 59.6h1M175.0 58.7h1M194.5 37.6h1M187.3 52.4h1M168.9 66.0h1M176.2 62.0h1M159.9 70.5h1M174.8 44.2h1M175.9 85.9h1M173.5 59.2h1M178.8 69.6h1M181.4 67.8h1M177.4 57.0h1M186.1 96.8h1M168.3 72.6h1M184.3 59.3h1M191.5 82.7h1M179.1 70.2h1M176.6 63.9h1M168.8 61.8h1M188.8 78.5h1M161.8 99.7h1M177.6 55.5h1M163.8 74.4h1M175.2 70.4h1M163.1 75.1h1M180.7 67.6h1M185.3 53.5h1M191.8 49.4h1M169.0 68.4h1M185.7 64.7h1M161.8 89.0h1M175.7 57.9h1M184.4 48.3h1M165.1 74.3h1M166.9 56.9h1M162.2 85.3h1M196.2 47.7h1M173.3 71.5h1M188.8 61.4h1M189.7 85.2h1M184.4 74.3h1M167.1 103.2h1M188.6 83.1h1M166.9 69.6h1M179.9 39.3h1M167.9 66.5h1M181.1 59.6h1M172.9 72.4h1M169.5 75.8h1M180.1 91.9h1M170.5 53.3h1M175.3 86.7h1M184.6 35.7h1M173.9 73.1h1M176.7 65.0h1M188.5 55.3h1M190.6 64.2h1M172.1 71.3h1M175.0 21.9h1M153.6 86.9h1M170.7 61.7h1M166.0 49.4h1M173.6 70.2h1M180.7 86.9h1M178.6 75.7h1M176.0 77.0h1M175.7 75.7h1M171.6 69.1h1M177.4 62.3h1M165.5 81.0h1M188.4 65.3h1M168.7 87.2h1M186.4 64.6h1M171.3 56.3h1M183.7 70.3h1M176.3 65.1h1M173.4 86.5h1M177.0 70.0h1M191.7 49.6h1M175.5 81.0h1M176.5 73.7h1M190.2 47.2h1M172.4 67.1h1M179.0 72.1h1M183.0 78.5h1M168.5 66.3h1M164.2 33.5h1M175.0 72.7h1M189.1 56.9h1M194.2 51.0h1M179.1 64.6h1M180.9 54.2h1M168.6 86.4h1M184.1 60.6h1M181.2 87.5h1M167.3 61.5h1M186.2 64.2h1M176.9 60.6h1M181.9 82.9h1M177.9 65.7h1M167.9 72.7h1M166.9 95.5h1M187.0 54.5h1M185.3 82.0h1M168.8 70.3h1M191.0 57.6h1M166.6 72.2h1M159.1 65.0h1M188.3 71.3h1M172.8 63.6h1M176.3 57.7h1M179.5 49.9h1M182.7 38.7h1M171.0 64.3h1M174.3 88.3h1M171.4 62.0h1M176.3 60.0h1M174.2 76.9h1M183.9 64.7h1M184.7 51.8h1M169.1 78.2h1M169.8 61.2h1M173.5 70.7h1M177.9 70.8h1M193.1 57.2h1M187.9 58.2h1M180.2 86.6h1M172.4 47.5h1M183.1 31.2h1M171.4 66.5h1M182.4 79.5h1M175.3 64.5h1M174.8 50.4h1M169.5 80.2h1M179.0 81.2h1M168.4 70.2h1M160.8 71.7h1M178.4 66.8h1M177.7 59.7h1M171.8 61.3h1M178.2 69.0h1M176.3 87.8h1M177.9 67.0h1M189.6 80.0h1M171.4 67.5h1M177.9 82.5h1M170.4 70.5h1M180.8 81.4h1M185.0 69.9h1M168.4 66.9h1M182.8 57.1h1M172.1 77.9h1M179.1 84.8h1M178.8 76.0h1M176.2 64.7h1M176.7 63.1h1M169.2 85.3h1M177.7 87.6h1M175.4 58.4h1M181.3 60.5h1M174.2 53.0h1M169.9 66.6h1M184.1 81.6h1M162.3 96.3h1M184.6 63.5h1M159.2 76.3h1M172.7 94.6h1M188.0 54.9h1M183.8 82.3h1M180.7 73.0h1M187.7 75.0h1M159.4 72.2h1M177.1 73.9h1M172.9 63.6h1M167.9 70.1h1M176.7 72.6h1M189.8 68.8h1M172.7 99.0h1M170.4 60.4h1M177.2 68.0h1M178.2 84.9h1M189.5 42.8h1M187.8 59.9h1M183.5 72.8h1M175.0 81.0h1M189.3 61.4h1M173.7 72.6h1M178.3 62.1h1M183.3 68.6h1M180.2 81.8h1M176.6 63.0h1M167.4 85.8h1M183.6 71.5h1M174.2 98.8h1M169.6 64.0h1M183.3 57.4h1M171.7 60.8h1M179.1 86.8h1M185.2 49.5h1M173.0 70.9h1M177.2 95.7h1M185.5 72.8h1M181.7 81.5h1M178.3 80.4h1M177.4 47.8h1M180.6 55.9h1M174.7 82.9h1M174.4 58.3h1M171.9 71.7h1M172.4 79.6h1M176.7 56.2h1M179.2 50.4h1M181.9 81.0h1M177.9 47.5h1M171.0 58.3h1M172.7 74.1h1M170.8 56.3h1M170.0 75.0h1M168.6 65.1h1M191.9 93.8h1M167.1 63.0h1M170.9 54.4h1M181.5 99.3h1M176.0 49.4h1M176.1 85.6h1M189.4 41.1h1M171.1 57.2h1M172.7 95.3h1M182.0 54.8h1M186.9 71.8h1M181.5 83.2h1M175.8 55.9h1M178.3 67.5h1M172.3 58.8h1M176.7 72.5h1M177.3 68.6h1M176.6 65.0h1M182.4 78.2h1M172.2 77.5h1M165.3 79.3h1M178.5 62.5h1M179.7 71.8h1M181.2 72.8h1M186.6 43.9h1M187.7 76.1h1M167.9 55.6h1M183.8 50.4h1M172.1 54.6h1M169.0 79.8h1M171.2 58.9h1M181.0 81.0h1M175.3 78.4h1M161.3 78.4h1M175.8 69.9h1M178.3 91.3h1M186.5 59.1h1M166.8 74.0h1M177.8 70.6h1M172.1 70.3h1M167.8 81.7h1M173.2 69.2h1M181.6 44.8h1M175.5 61.6h1M169.3 69.7h1M164.4 72.9h1M178.3 101.1h1M175.9 84.9h1M172.5 69.7h1M175.9 57.6h1M176.1 62.1h1M187.6 57.1h1M185.0 70.2h1M190.0 64.9h1M165.5 67.7h1M179.5 66.5h1M174.1 73.8h1M167.0 70.4h1M178.2 43.2h1M161.6 81.1h1M173.4 80.9h1M187.0 49.3h1M165.3 76.9h1M172.0 84.7h1M177.0 55.8h1M197.0 50.1h1M162.3 62.5h1M180.6 53.4h1M186.6 61.5h1M173.5 83.4h1M172.3 65.0h1M178.8 58.9h1M188.7 78.4h1M189.2 69.9h1M183.7 73.2h1M175.1 80.0h1M165.8 49.5h1M177.2 60.9h1M182.5 54.0h1M167.6 67.6h1M183.3 26.0h1M170.6 72.2h1M177.3 73.8h1M179.2 90.0h1M180.2 73.9h1M165.0 97.8h1M173.1 72.5h1M176.5 79.1h1M171.6 61.4h1M174.4 98.2h1M183.3 75.7h1M179.6 56.5h1M168.8 88.5h1M182.9 81.8h1M176.8 94.8h1M166.9 89.7h1M166.5 87.6h1M177.9 76.0h1M179.5 78.7h1M185.0 44.7h1M171.2 85.0h1M174.0 69.8h1M189.6 55.1h1M188.5 41.8h1M173.9 58.0h1M181.0 79.3h1M169.6 64.8h1M152.9 71.2h1M168.3 66.7h1M168.3 67.5h1M169.7 81.2h1M179.5 27.5h1M168.5 84.8h1M186.8 55.7h1M177.4 58.6h1M172.0 65.8h1M170.5 70.1h1M164.2 87.6h1M187.3 42.7h1M173.2 79.5h1M183.8 77.9h1M172.3 68.3h1M181.9 60.1h1M168.8 77.2h1M165.9 63.9h1M180.5 84.0h1M188.2 59.1h1M171.0 74.2h1M172.5 72.0h1M180.4 50.6h1M177.2 48.6h1M189.9 67.0h1M169.4 78.3h1M163.2 74.4h1M171.2 72.1h1M182.2 37.1h1M175.2 101.1h1M180.4 55.7h1M183.1 66.5h1M175.0 77.1h1M189.2 70.4h1M183.6 49.6h1M177.9 89.8h1M185.0 72.2h1M178.4 68.8h1M174.3 58.5h1M190.6 82.9h1M180.1 83.2h1M185.4 61.1h1M172.8 47.3h1M166.1 51.7h1M179.5 69.1h1M188.6 56.8h1M171.3 81.8h1M171.4 70.0h1M169.0 79.4h1M191.0 55.7h1M191.8 61.9h1M169.6 65.8h1M175.8 78.8h1M189.5 57.1h1M180.2 83.7h1M179.1 77.8h1M191.0 59.2h1M176.6 77.1h1M175.6 62.3h1M181.5 69.1h1M165.9 91.1h1M189.1 37.6h1M161.7 73.4h1M176.9 83.7h1M182.7 60.5h1M175.0 59.7h1M175.2 44.6h1M177.0 61.5h1M176.7 95.0h1M180.9 74.5h1M183.1 51.6h1M172.8 78.1h1M186.9 73.0h1M191.5 60.3h1M174.5 57.0h1M187.4 58.1h1M179.7 71.8h1M166.8 71.2h1M182.0 72.0h1M159.6 69.9h1M181.5 82.6h1M185.8 68.2h1M171.0 79.0h1M167.5 81.7h1M179.9 62.3h1M177.2 76.6h1M169.1 86.8h1M160.5 87.3h1M163.8 86.1h1M192.8 49.7h1M177.7 50.4h1M171.3 58.2h1M176.5 77.3h1M172.1 92.1h1M164.6 56.5h1M165.4 103.0h1M177.5 71.2h1M176.6 86.2h1M172.2 66.0h1M185.2 46.7h1M193.0 62.5h1M173.4 75.7h1M168.5 93.2h1M196.4 68.0h1M180.6 61.7h1M165.9 85.3h1M159.9 92.5h1M179.5 68.3h1M171.8 81.6h1M178.2 81.7h1M175.4 59.1h1M166.4 73.2h1M190.7 80.1h1M183.0 71.1h1M189.7 64.0h1M169.2 72.0h1M187.5 56.4h1M182.1 80.7h1M176.6 69.3h1M187.9 44.4h1M175.9 64.2h1M185.2 68.5h1M173.3 61.3h1M177.8 62.7h1M176.8 64.5h1M156.9 96.8h1M159.7 70.3h1M185.5 94.4h1M176.3 58.6h1M162.2 60.2h1M184.9 67.7h1M168.3 64.0h1M176.9 54.5h1M176.1 77.7h1M190.3 77.5h1M191.7 75.5h1M169.8 60.4h1M177.3 69.4h1M191.7 51.5h1M182.2 31.9h1M191.9 80.0h1M176.0 82.6h1M176.0 44.5h1M170.2 72.7h1M181.9 62.6h1M181.5 71.1h1M171.1 79.6h1M193.2 66.7h1M177.2 69.9h1M182.6 50.9h1M183.7 51.3h1M182.8 53.3h1M167.2 80.5h1M192.1 66.9h1M182.0 42.3h1M178.8 31.7h1M180.3 83.1h1M177.5 92.6h1M182.9 65.2h1M174.9 87.0h1M180.2 55.8h1M181.2 54.7h1M176.0 63.7h1M170.5 88.1h1M173.4 60.7h1M158.1 93.8h1M180.5 50.2h1M182.8 82.5h1M165.4 68.7h1M168.9 73.7h1M169.6 70.0h1M180.5 69.2h1M173.2 76.9h1M182.3 73.1h1M179.5 80.9h1M180.4 51.2h1M170.9 82.3h1M166.1 93.3h1M171.0 85.8h1M179.2 75.5h1M180.4 68.4h1M178.8 70.5h1M177.2 86.6h1M190.1 53.0h1M174.7 89.1h1M176.0 93.8h1M172.8 71.2h1M172.3 79.3h1M170.0 67.4h1M179.0 68.9h1M178.7 61.7h1M193.6 73.9h1M183.3 55.5h1M175.9 90.2h1M160.0 55.8h1M179.1 72.3h1M177.8 68.9h1M186.3 74.2h1M176.4 63.2h1M191.1 76.6h1M169.7 80.4h1M179.3 64.9h1M187.9 67.6h1M184.5 53.9h1M176.7 68.5h1M183.3 74.5h1M164.4 85.1h1M168.2 73.8h1M182.7 82.1h1" stroke="#000" stroke-opacity="0.3" stroke-width="1" fill="none"/>
<path d="M133.4 103.2h1M136.8 96.0h1M139.2 90.0h1M136.5 97.7h1M145.4 94.6h1M154.9 78.8h1M139.6 93.1h1M149.9 89.5h1M140.6 95.9h1M147.6 92.7h1M142.1 91.2h1M136.8 90.7h1M148.2 90.0h1M152.1 84.2h1M140.0 89.6h1M136.5 93.9h1M147.1 88.0h1M131.5 101.6h1M140.7 88.4h1M146.1 91.1h1M135.6 91.6h1M143.7 92.0h1M147.2 95.0h1M143.3 86.1h1M147.8 83.7h1M149.2 86.1h1M149.6 80.3h1M150.2 86.8h1M141.4 96.3h1M158.9 78.3h1M140.1 93.3h1M153.1 83.2h1M151.9 79.9h1M148.6 78.3h1M143.3 89.7h1M145.1 95.4h1M142.3 93.7h1M157.7 81.7h1M140.8 89.9h1M134.3 101.4h1M152.8 87.7h1M151.6 93.9h1M143.8 79.3h1M141.8 96.4h1M144.7 93.9h1M158.0 73.7h1M157.6 77.4h1M136.7 97.8h1M148.8 83.1h1M152.0 78.7h1M146.1 93.0h1M142.4 89.2h1M146.5 91.4h1M158.4 83.7h1M155.8 79.3h1M135.2 98.4h1M140.1 89.1h1M141.8 92.2h1M147.5 91.7h1M142.5 97.5h1M147.0 91.2h1M149.2 79.5h1M152.5 79.0h1M150.0 90.2h1M146.5 80.4h1M148.7 91.6h1M144.1 90.0h1M149.4 93.5h1M139.5 90.0h1M137.2 94.1h1M144.5 91.7h1M140.3 85.4h1M137.5 99.9h1M145.9 82.0h1M144.5 78.0h1M160.0 78.5h1M136.6 99.9h1M143.7 88.5h1M142.3 90.9h1M142.2 87.7h1M143.0 94.1h1M144.8 83.1h1M146.0 96.3h1M153.2 90.0h1M134.5 94.1h1M140.2 88.8h1M136.9 93.6h1M145.9 92.7h1M143.9 81.8h1M152.9 80.5h1M139.1 94.9h1M139.2 88.0h1M152.7 79.5h1M142.8 94.2h1M156.0 81.7h1M140.8 95.6h1M152.4 84.5h1M147.6 84.7h1M140.5 85.4h1M138.0 90.4h1M148.7 93.4h1M139.3 94.3h1M149.9 81.1h1M143.4 97.0h1M148.5 88.9h1M148.1 83.0h1M144.7 86.6h1M141.1 93.8h1M144.4 83.8h1M142.0 95.3h1M147.6 90.4h1M141.2 89.1h1M151.1 86.8h1M142.2 95.4h1M153.5 80.2h1M139.9 95.5h1M146.9 90.5h1M137.4 97.8h1M152.0 86.5h1M151.6 89.2h1M143.2 97.3h1M143.8 85.7h1M143.9 91.9h1M150.3 91.3h1M144.9 87.1h1M157.0 76.7h1M142.4 96.5h1M140.6 89.7h1M141.7 98.5h1M139.0 95.6h1M141.8 91.5h1M140.6 94.4h1M151.1 89.0h1M140.0 88.4h1M136.3 97.6h1M145.5 89.7h1M135.2 95.4h1M142.3 95.4h1M144.1 93.4h1M143.3 81.6h1M146.7 94.1h1M142.3 92.7h1M141.2 87.0h1M157.5 77.2h1M147.7 84.8h1M156.1 84.9h1M154.3 85.6h1M152.5 89.3h1M147.7 87.7h1M147.6 82.7h1M144.2 86.8h1M141.1 88.5h1M140.5 94.6h1M147.8 91.0h1M146.0 91.7h1M147.3 83.9h1M133.4 97.0h1M142.2 89.5h1M156.3 75.6h1M145.9 84.9h1M146.0 82.4h1M151.1 84.8h1M139.7 88.6h1M153.4 78.9h1M147.6 75.3h1M142.4 100.9h1M155.5 79.8h1M152.4 85.7h1M143.2 91.8h1M135.0 92.3h1M147.5 90.8h1M143.0 85.4h1M150.2 85.1h1M148.7 84.7h1M146.0 93.8h1M150.1 78.9h1M140.9 98.1h1M147.3 87.7h1M141.8 97.6h1M146.7 89.1h1M146.0 86.0h1M147.7 87.7h1M150.2 86.6h1M135.8 94.7h1M146.3 94.1h1M144.0 96.1h1M153.5 85.9h1M158.3 77.2h1M149.9 91.0h1M149.9 89.9h1M147.7 94.0h1M142.4 82.6h1M150.9 83.1h1M139.1 93.6h1M146.2 94.1h1M146.8 87.5h1M142.7 87.3h1M140.1 91.8h1M140.8 87.7h1M145.1 94.4h1M147.7 87.1h1M146.5 87.0h1M140.2 98.3h1M159.5 78.6h1M155.1 92.2h1M139.2 97.5h1M142.3 90.7h1M135.1 98.4h1M143.5 83.2h1M142.5 89.5h1M140.7 96.7h1M155.7 81.6h1M152.9 85.9h1M146.1 91.4h1M151.8 81.2h1M140.8 86.7h1M132.1 97.6h1M151.2 85.6h1M149.8 91.6h1M138.0 102.8h1M147.4 91.1h1M151.2 79.8h1M140.9 95.4h1M143.3 88.3h1M142.5 88.3h1M144.9 87.8h1M152.5 77.5h1M148.6 86.6h1M152.0 78.3h1M146.5 96.6h1M140.2 92.1h1M140.3 89.1h1M155.9 86.8h1M142.3 88.4h1M138.7 98.7h1M143.3 93.9h1M149.7 87.2h1M145.7 88.8h1M142.0 90.3h1M147.1 90.1h1M150.0 83.9h1M149.9 80.4h1M158.6 81.6h1M149.3 98.9h1M157.4 85.8h1M137.7 95.8h1M150.4 89.7h1M142.3 85.7h1M151.8 82.4h1M146.8 86.3h1M141.0 86.6h1M147.4 84.2h1M135.6 100.3h1M147.2 92.2h1M146.9 81.9h1M144.0 90.5h1M143.0 86.3h1M147.9 91.7h1M155.9 86.5h1M143.4 78.8h1M142.1 89.6h1M150.4 84.5h1M148.3 88.8h1M147.1 94.3h1M157.7 81.7h1M142.4 93.2h1M152.5 86.1h1M143.3 95.8h1M150.7 87.1h1M142.5 91.7h1M133.7 99.9h1M141.7 91.2h1M142.6 90.2h1M145.8 89.3h1M141.1 92.5h1M145.7 91.3h1M146.7 86.2h1M136.2 89.8h1M138.7 97.4h1M143.5 98.7h1M143.2 89.4h1M142.8 89.0h1M141.5 93.1h1M136.9 97.8h1M142.3 87.7h1M151.9 84.9h1M149.8 81.9h1M134.9 93.2h1M131.2 93.2h1M153.1 79.7h1M144.9 87.1h1M148.0 94.4h1M132.4 96.5h1M143.6 86.4h1M152.2 89.1h1M152.1 86.6h1M146.5 93.0h1M137.4 90.8h1M142.9 90.3h1M149.8 80.3h1M149.9 81.2h1M133.5 92.0h1M141.3 86.0h1M146.4 88.5h1M138.0 86.7h1M143.1 93.5h1M136.2 101.1h1M143.8 88.0h1M147.8 90.1h1M143.0 87.6h1M148.0 83.5h1M149.5 90.1h1M156.6 86.5h1M151.4 84.3h1M144.3 91.1h1M155.4 94.4h1M146.9 83.8h1M150.1 77.1h1M147.8 80.7h1M137.4 94.2h1M140.1 87.6h1M148.4 85.8h1M150.4 79.5h1M136.1 101.2h1M146.1 93.3h1M150.3 94.1h1M133.2 91.3h1M145.8 95.7h1M151.0 77.3h1M137.0 88.1h1M137.7 91.6h1M150.3 90.1h1M158.1 75.5h1M150.4 85.6h1M150.4 93.9h1M152.9 89.7h1M148.9 90.1h1M147.8 86.5h1M139.9 92.3h1M144.2 88.4h1M141.3 89.5h1M149.5 84.2h1M143.8 89.6h1M151.4 80.9h1M151.2 79.5h1M155.5 82.7h1M143.2 93.4h1M149.4 80.8h1M144.5 91.6h1M143.1 89.9h1M145.9 90.2h1M153.2 89.1h1M150.3 98.9h1M147.4 95.9h1M140.7 86.4h1M141.6 91.0h1M146.4 78.4h1M141.0 92.6h1M149.8 86.9h1M149.7 84.4h1M146.6 93.9h1M156.0 81.1h1M143.9 86.4h1M158.3 79.1h1M144.8 81.9h1M154.5 92.5h1M143.6 89.9h1M153.6 80.6h1M154.7 90.0h1M136.2 93.7h1M149.3 86.1h1M144.9 88.8h1M146.6 89.7h1M141.6 91.4h1M143.7 85.4h1M142.3 81.4h1M148.5 85.7h1M141.4 99.4h1M143.2 101.3h1M143.7 96.6h1M148.6 94.0h1M146.2 93.4h1M138.6 86.4h1M148.5 88.6h1M151.4 91.7h1M137.3 89.8h1M144.8 86.3h1M144.4 90.0h1M142.9 96.8h1M148.7 94.8h1M149.1 90.9h1M141.7 89.3h1M139.8 90.1h1M148.0 87.4h1M135.0 91.3h1M135.6 89.4h1M136.2 90.3h1M146.3 82.6h1M141.3 92.4h1M146.3 90.4h1M151.0 87.0h1M146.1 94.6h1M145.5 85.6h1M150.9 78.3h1M150.8 90.2h1M146.5 89.8h1M147.4 90.6h1M146.4 88.3h1M144.5 80.7h1M145.8 87.3h1M157.1 79.6h1M142.8 94.8h1M139.9 88.5h1M144.6 92.3h1M154.5 85.8h1M146.0 87.8h1M149.1 91.6h1M147.1 93.2h1M140.4 93.7h1M151.2 87.1h1M145.0 87.1h1M133.6 98.0h1M139.1 93.0h1M152.3 78.9h1M149.9 84.9h1M138.9 95.7h1M146.5 82.3h1M137.4 94.8h1M147.8 84.0h1M148.6 88.4h1M146.2 90.6h1M151.9 82.1h1M144.3 85.0h1M140.6 93.1h1M148.1 83.4h1M139.3 99.4h1M152.5 70.0h1M139.2 95.5h1M145.5 84.4h1M149.6 90.5h1" stroke="#000" stroke-opacity="0.25" stroke-width="1" fill="none"/>
<path d="M147.9 91.3h1M144.1 81.0h1M139.4 88.6h1M162.9 79.5h1M142.4 77.5h1M141.3 88.5h1M131.1 102.2h1M143.8 78.1h1M141.6 87.7h1M165.0 73.1h1M153.7 79.8h1M140.4 100.6h1M133.3 83.7h1M151.6 78.4h1M149.2 88.1h1M146.9 89.6h1M156.3 73.8h1M144.2 89.0h1M150.6 78.9h1M144.8 82.5h1M148.7 88.9h1M139.6 92.1h1M132.1 95.4h1M149.9 87.5h1M138.2 94.2h1M140.8 95.1h1M151.1 85.6h1M139.3 81.9h1M136.8 85.2h1M141.3 91.4h1M153.1 74.2h1M141.6 93.3h1M138.8 103.1h1M159.1 81.7h1M149.3 89.9h1M148.3 92.8h1M138.2 88.1h1M148.2 80.9h1M148.9 76.8h1M145.1 79.7h1M155.3 95.7h1M133.0 89.9h1M133.0 98.5h1M158.3 70.5h1M153.8 77.4h1M150.4 99.6h1M148.0 69.4h1M140.8 95.9h1M151.4 79.6h1M151.9 85.6h1M148.4 93.0h1M143.3 96.2h1M155.3 79.2h1M144.1 88.8h1M149.4 75.8h1M150.1 83.2h1M146.8 90.2h1M142.2 80.2h1M143.2 90.8h1M134.8 94.8h1M133.6 81.8h1M164.7 75.2h1M147.3 93.8h1M145.0 101.0h1M144.6 89.7h1M142.7 91.2h1M149.8 83.4h1M143.5 96.0h1M151.5 81.3h1M152.4 74.2h1M156.7 74.7h1M157.4 71.5h1M145.9 89.0h1M162.0 82.8h1M140.2 86.8h1M158.5 84.7h1M151.3 78.8h1M157.2 75.3h1M151.0 87.1h1M132.8 81.4h1M151.8 87.1h1M152.9 84.6h1M152.8 88.9h1M154.3 91.2h1M150.8 88.8h1M143.8 91.8h1M151.0 83.0h1M159.7 73.3h1M157.6 78.1h1M152.0 73.2h1M148.2 93.0h1M142.1 94.4h1M152.4 82.1h1M152.9 84.6h1M146.9 89.7h1M140.9 88.4h1M133.7 98.8h1M133.4 100.3h1M144.1 79.8h1M148.8 86.6h1M140.3 85.1h1M147.9 88.6h1M162.7 86.2h1M132.5 103.8h1M147.8 79.7h1M158.5 91.9h1M153.7 90.7h1M153.8 75.3h1M152.0 65.9h1M142.5 84.8h1M148.9 84.5h1M153.8 74.0h1M155.4 62.9h1M160.1 95.2h1M148.9 89.4h1M157.2 103.5h1M152.8 77.1h1M132.4 102.8h1M144.3 71.5h1M145.4 92.4h1M155.1 87.3h1M153.6 73.6h1M143.6 74.5h1M137.4 100.6h1M139.5 85.1h1M130.9 100.6h1M156.5 59.1h1M143.3 99.3h1M152.4 90.1h1M154.2 94.1h1M146.3 85.8h1M152.1 83.8h1M130.8 94.6h1M146.6 89.4h1M134.0 93.3h1M142.4 93.6h1M146.1 92.1h1M146.3 79.0h1M139.3 83.3h1M151.3 88.4h1M131.5 86.9h1M150.0 80.5h1M148.7 88.1h1M154.0 86.7h1M133.9 80.7h1M141.7 88.8h1M145.4 91.1h1M150.5 93.4h1M141.8 91.3h1M153.1 97.8h1M135.0 89.8h1M147.2 92.3h1M146.4 85.2h1M144.3 86.8h1M162.9 72.8h1M154.6 86.4h1M134.5 88.4h1M150.3 95.2h1M152.6 75.3h1M140.9 100.3h1M151.2 72.3h1M156.8 69.3h1M152.2 78.9h1M141.7 86.2h1M155.3 82.7h1M152.4 78.1h1M149.3 102.0h1M160.2 70.8h1M144.1 101.8h1M148.3 85.1h1M155.5 80.3h1M156.4 93.3h1M139.3 94.6h1M146.7 88.5h1M164.3 64.7h1M157.1 81.0h1M147.3 81.4h1M153.4 81.8h1M162.4 77.3h1M161.5 75.3h1M145.8 82.0h1M173.3 70.4h1M146.2 83.6h1M157.5 86.8h1M155.3 85.5h1M150.7 85.3h1M137.1 97.2h1M147.1 85.3h1M146.3 89.3h1M141.4 90.1h1M134.5 88.5h1M140.8 88.8h1M164.9 76.3h1M146.3 91.5h1M130.9 88.7h1M152.2 85.6h1M141.3 91.8h1M156.4 77.7h1M151.0 86.9h1M137.5 97.8h1M144.3 31.3h1M151.1 39.8h1M150.0 37.0h1M142.6 35.7h1M145.4 35.6h1M132.8 44.8h1M144.3 29.9h1M131.6 38.1h1M136.6 40.8h1M144.1 32.6h1M132.0 30.1h1M133.4 33.8h1M136.3 39.9h1M149.9 49.7h1M131.8 37.7h1M130.8 40.1h1M140.0 41.4h1M141.7 31.0h1M135.1 39.9h1M142.0 33.0h1M138.0 36.8h1M132.7 42.0h1M142.9 33.6h1M131.5 41.1h1M139.2 37.8h1M138.6 41.3h1M148.4 34.5h1M143.9 39.9h1M138.3 35.5h1M144.3 26.7h1M140.5 27.3h1M146.1 42.1h1M136.0 31.0h1M140.5 34.1h1M142.7 30.3h1M145.7 37.6h1M140.9 34.9h1M142.9 32.1h1M136.6 39.0h1M144.8 29.1h1M140.5 31.2h1M134.6 40.0h1M139.5 49.6h1M143.2 33.6h1M140.1 31.5h1M144.7 29.7h1M142.2 30.7h1M141.9 30.7h1M135.9 34.9h1M133.6 35.8h1M148.6 29.1h1M130.9 51.6h1M150.3 34.9h1M137.8 35.9h1M136.2 38.7h1M142.0 33.9h1M130.9 35.8h1M154.5 35.4h1M140.3 38.6h1M138.9 37.5h1M144.5 39.0h1M133.4 46.3h1M143.3 36.3h1M139.0 39.8h1M145.3 35.7h1M133.9 46.9h1M141.9 39.5h1M136.9 33.3h1M158.0 26.9h1M142.7 30.8h1M140.5 41.5h1M146.7 41.1h1M143.9 26.3h1M132.0 47.6h1M142.2 32.3h1M135.5 35.2h1M150.3 27.3h1M132.3 45.9h1M139.3 37.9h1M136.3 37.6h1M133.4 37.6h1M144.5 39.8h1M145.3 37.7h1M133.8 41.5h1M144.1 38.0h1M134.3 38.1h1M138.7 42.9h1M144.9 29.4h1M138.6 37.6h1M132.7 39.7h1M146.7 35.3h1M132.7 36.6h1M134.2 30.8h1M141.3 35.2h1M133.8 38.0h1M136.9 45.5h1M134.6 43.5h1M144.2 40.9h1M138.5 36.4h1M134.2 28.3h1M154.2 24.4h1M133.8 33.1h1M142.4 43.1h1M135.1 41.3h1M148.3 35.2h1M131.5 31.0h1M143.1 36.5h1M135.6 35.9h1M146.2 22.0h1M133.9 36.0h1M137.0 44.6h1M136.5 28.8h1M139.1 38.6h1M133.9 38.0h1M143.2 32.3h1M142.2 30.5h1M145.6 38.9h1M137.9 54.1h1M135.9 36.3h1M139.1 38.7h1M131.1 41.7h1M138.9 44.4h1M134.8 34.6h1M139.2 34.6h1M139.8 36.9h1M145.8 29.1h1M154.2 32.7h1M149.7 29.9h1M138.1 30.9h1M144.6 25.6h1M133.7 39.7h1M141.4 36.4h1M145.3 38.6h1M145.1 34.3h1M135.7 35.2h1M135.3 38.1h1M141.0 31.8h1M149.8 23.0h1M143.7 31.7h1M137.0 35.3h1M148.2 28.1h1M142.9 34.1h1M145.4 35.1h1M147.8 25.8h1M138.0 46.5h1M147.5 30.7h1M137.7 38.4h1M145.4 27.3h1M148.3 29.4h1M135.5 36.2h1M133.6 41.1h1M143.8 33.0h1M141.3 36.9h1M151.0 31.2h1M149.1 28.8h1M139.5 32.0h1M140.5 30.1h1M140.3 31.6h1M139.8 42.5h1M142.0 38.6h1M132.4 30.0h1M148.1 28.8h1M137.2 42.7h1M144.6 28.3h1M145.5 29.9h1M137.7 37.4h1M138.5 42.6h1M146.3 31.5h1M144.4 35.5h1M145.8 22.4h1M148.1 35.1h1M136.9 37.6h1M139.9 42.5h1M133.0 43.7h1M148.9 32.6h1M134.5 36.5h1M143.6 27.5h1M135.7 43.8h1M134.4 31.2h1M132.1 37.1h1M136.7 44.7h1M133.3 42.1h1M136.7 41.1h1M146.1 39.4h1M133.1 34.8h1M145.4 32.0h1M145.8 27.4h1M133.3 35.3h1M138.5 33.3h1M142.6 28.9h1M141.4 35.8h1M134.0 37.0h1M152.3 48.3h1M133.2 39.1h1M137.4 40.3h1M140.5 38.3h1M149.0 27.7h1M138.0 38.9h1M151.8 25.3h1M153.2 33.1h1M133.5 42.1h1M147.8 30.4h1M145.8 43.8h1M147.0 42.9h1M137.4 46.6h1M132.2 38.0h1M140.7 39.3h1M144.9 35.1h1M138.8 46.4h1M146.9 30.9h1M135.0 38.5h1M135.6 34.4h1M137.1 33.6h1M141.4 30.7h1M143.0 35.2h1M141.4 37.4h1M139.0 50.8h1M136.3 42.1h1M137.9 34.3h1M153.4 32.6h1M141.9 57.8h1M137.0 89.6h1M164.2 70.3h1M155.1 73.9h1M137.7 65.6h1M142.3 62.0h1M157.9 53.1h1M144.0 89.1h1M131.8 102.0h1M151.8 84.5h1M137.3 59.4h1M159.6 102.6h1M131.2 93.8h1M137.6 52.3h1M151.2 53.3h1M159.5 95.3h1M140.5 56.1h1M148.3 90.0h1M132.0 87.5h1M134.9 69.2h1M136.4 52.5h1M149.0 64.8h1M162.0 98.6h1M155.6 76.7h1M152.9 66.6h1M146.8 78.7h1M145.1 72.9h1M159.9 103.4h1M155.9 96.1h1M141.2 52.2h1M138.3 76.0h1M156.9 89.1h1M162.1 91.6h1M140.9 51.1h1M147.2 66.5h1M160.5 98.7h1M149.2 91.3h1M155.6 77.1h1M145.9 101.4h1M158.1 80.0h1M164.6 56.3h1M157.1 78.8h1M141.7 55.1h1M150.6 96.7h1M136.7 98.3h1M164.6 58.9h1M149.6 75.2h1M142.2 54.7h1M139.9 100.7h1M159.5 101.3h1M147.8 76.0h1M132.8 71.9h1M150.6 103.6h1M132.9 84.8h1M132.3 102.4h1M137.6 86.9h1M152.5 59.5h1M146.5 71.7h1M136.8 70.2h1M132.9 87.6h1M164.0 78.3h1M144.4 76.8h1M135.6 89.4h1M154.4 53.8h1M143.7 54.9h1M154.7 48.8h1M160.6 51.6h1M159.4 58.7h1M148.8 87.8h1M162.9 97.0h1M135.9 88.1h1M145.5 57.4h1M146.5 100.5h1M131.4 87.1h1M149.3 97.4h1M147.0 61.9h1M159.9 54.1h1M154.3 64.4h1M132.5 57.4h1M159.9 56.8h1M162.2 56.3h1M162.5 50.9h1M153.3 77.9h1M151.2 99.8h1M138.5 103.6h1M150.2 93.3h1M139.3 103.8h1M155.4 74.4h1M138.2 97.2h1M149.9 103.4h1M161.0 89.9h1M155.5 57.4h1M159.2 88.0h1M134.1 51.9h1M134.2 60.3h1M156.9 91.0h1M154.5 68.6h1M162.9 56.5h1M138.5 72.7h1M139.6 89.2h1M159.3 89.6h1M141.8 80.5h1M141.5 78.7h1M148.9 56.5h1M159.7 93.5h1M157.4 53.1h1M138.7 90.0h1M158.4 82.6h1M162.7 71.9h1M138.5 74.6h1M141.0 69.3h1M157.5 66.1h1M155.1 81.2h1M131.4 76.6h1M160.4 84.3h1M159.9 83.8h1M164.8 50.2h1M145.3 59.1h1M156.6 64.5h1M153.5 84.7h1M131.3 82.4h1M142.0 62.2h1M152.8 83.4h1M138.0 87.8h1M133.3 51.1h1M161.1 100.0h1M163.2 103.7h1M156.1 79.9h1M148.9 78.0h1M163.1 102.1h1M145.7 59.3h1M149.1 71.7h1M158.5 99.6h1M152.0 52.6h1M149.0 55.2h1M149.1 93.8h1M153.8 74.2h1M136.1 100.1h1M160.6 75.3h1M132.5 85.9h1M144.5 70.3h1M143.7 63.4h1M135.5 84.4h1M148.5 72.1h1M156.4 76.2h1M136.3 63.0h1M149.9 85.3h1M152.4 89.8h1M143.0 90.9h1M150.7 62.2h1M135.0 83.1h1M159.8 101.2h1M158.7 94.1h1M150.9 61.7h1M140.9 96.2h1M140.1 75.1h1M149.5 49.0h1M134.5 59.2h1M158.0 92.0h1M133.7 57.1h1M164.5 57.3h1M158.1 80.8h1M160.6 89.3h1M134.0 91.1h1M155.2 50.3h1M163.0 64.4h1M146.6 77.4h1M149.7 79.9h1M133.0 95.8h1M148.6 53.5h1M147.9 58.6h1M145.5 88.3h1M156.6 57.0h1M140.6 102.2h1M152.3 58.4h1M151.6 61.9h1M133.2 84.9h1M134.5 55.9h1M154.0 102.1h1M133.1 89.9h1M135.6 51.3h1M131.3 49.1h1M155.8 98.8h1M131.1 56.4h1M132.3 70.8h1M141.7 58.8h1M158.7 53.9h1M152.4 56.0h1M153.1 55.2h1M137.5 103.4h1M139.8 73.3h1M153.4 103.9h1M149.5 54.5h1M153.6 86.3h1M150.7 69.6h1M158.8 51.5h1M149.4 78.5h1M162.2 91.6h1M138.9 69.4h1M151.1 69.3h1M132.9 103.6h1M146.3 55.8h1M135.9 48.8h1M161.9 55.8h1M150.0 100.9h1M157.0 81.1h1M140.5 85.7h1M158.4 59.6h1M138.5 71.0h1M151.2 97.8h1M151.0 63.0h1M155.6 56.4h1M134.4 48.5h1M150.5 80.4h1M146.6 79.0h1M137.1 59.8h1M150.8 70.6h1M147.8 99.2h1M146.7 89.7h1M132.8 75.5h1M132.5 59.1h1M137.2 69.5h1M136.2 100.3h1M141.0 65.0h1M133.1 68.7h1M157.6 78.6h1M161.4 82.6h1M152.8 71.9h1M159.4 73.2h1M135.5 60.6h1M158.0 51.2h1M136.9 83.1h1M154.1 74.1h1M153.1 71.5h1M150.9 50.2h1M144.8 102.5h1M150.4 67.1h1M152.1 102.7h1M146.7 71.3h1M158.9 95.6h1M138.5 85.4h1M140.9 67.8h1M158.2 68.3h1M162.1 75.2h1M160.4 55.2h1M144.6 49.9h1M160.1 97.8h1M147.4 74.0h1M164.0 69.6h1M141.2 55.7h1M162.2 92.9h1M148.8 88.9h1M159.4 85.5h1M134.4 84.3h1M160.6 74.6h1M145.4 84.1h1M137.2 60.6h1M154.0 103.6h1M134.6 85.2h1M148.0 50.1h1M173.6 47.0h1M198.5 32.9h1M183.6 72.9h1M201.5 103.7h1M205.4 37.7h1M192.3 71.7h1M192.0 71.0h1M184.0 41.5h1M197.4 93.6h1M198.1 76.0h1M211.0 42.8h1M193.0 89.8h1M196.7 22.1h1M190.0 89.0h1M175.5 54.3h1M212.2 59.2h1M191.5 71.0h1M205.9 59.4h1M208.2 79.8h1M184.9 72.4h1M180.1 26.2h1M188.8 25.8h1M180.1 91.1h1M211.6 38.2h1M173.8 51.0h1M187.2 33.6h1M203.9 34.9h1M191.4 44.3h1M196.4 31.5h1M189.2 91.5h1M166.8 37.9h1M169.4 90.6h1M197.5 41.9h1M208.3 36.2h1M189.0 81.9h1M194.2 27.4h1M168.2 37.1h1M210.4 95.7h1M180.1 25.9h1M195.8 38.3h1M207.9 97.3h1M202.8 85.7h1M202.6 90.2h1M183.8 81.2h1M166.6 79.0h1M186.9 102.7h1M202.9 59.1h1M199.2 70.0h1M195.0 22.7h1M176.6 43.1h1M199.1 97.1h1M195.5 84.2h1M195.9 34.0h1M178.0 69.7h1M201.4 56.4h1M198.7 49.4h1M180.8 35.9h1M185.5 69.5h1M171.2 98.3h1M166.4 82.0h1" stroke="#000" stroke-opacity="0.25" stroke-width="1" fill="none"/>
<rect x="41.7" y="21.4" width="83.7" height="83.4" fill="none" stroke="#222" stroke-width="1.2"/>
<line x1="76.8" y1="21.4" x2="76.8" y2="104.8" stroke="#444" stroke-width="1"/>
<line x1="41.7" y1="48.2" x2="125.4" y2="48.2" stroke="#444" stroke-width="1"/>
<path d="M41.70 104.8v2.4M48.00 104.8v1.6M51.68 104.8v1.6M54.30 104.8v1.6M56.33 104.8v1.6M57.98 104.8v1.6M59.38 104.8v1.6M60.60 104.8v1.6M61.67 104.8v1.6M62.62 104.8v2.4M68.92 104.8v1.6M72.61 104.8v1.6M75.22 104.8v1.6M77.25 104.8v1.6M78.91 104.8v1.6M80.31 104.8v1.6M81.52 104.8v1.6M82.59 104.8v1.6M83.55 104.8v2.4M89.85 104.8v1.6M93.53 104.8v1.6M96.15 104.8v1.6M98.18 104.8v1.6M99.83 104.8v1.6M101.23 104.8v1.6M102.45 104.8v1.6M103.52 104.8v1.6M104.48 104.8v2.4M110.77 104.8v1.6M114.46 104.8v1.6M117.07 104.8v1.6M119.10 104.8v1.6M120.76 104.8v1.6M122.16 104.8v1.6M123.37 104.8v1.6M124.44 104.8v1.6" stroke="#444" stroke-width="0.8" fill="none"/>
<path d="M41.7 83.95h-2M41.7 63.10h-2M41.7 42.25h-2" stroke="#444" stroke-width="0.9" fill="none"/>
<rect x="130.0" y="20.9" width="84.1" height="83.6" fill="none" stroke="#222" stroke-width="1.2"/>
<line x1="165.4" y1="20.9" x2="165.4" y2="104.5" stroke="#444" stroke-width="1"/>
<line x1="130.0" y1="47.4" x2="214.1" y2="47.4" stroke="#444" stroke-width="1"/>
<path d="M130.00 104.5v2.4M136.33 104.5v1.6M140.03 104.5v1.6M142.66 104.5v1.6M144.70 104.5v1.6M146.36 104.5v1.6M147.77 104.5v1.6M148.99 104.5v1.6M150.06 104.5v1.6M151.03 104.5v2.4M157.35 104.5v1.6M161.06 104.5v1.6M163.68 104.5v1.6M165.72 104.5v1.6M167.39 104.5v1.6M168.79 104.5v1.6M170.01 104.5v1.6M171.09 104.5v1.6M172.05 104.5v2.4M178.38 104.5v1.6M182.08 104.5v1.6M184.71 104.5v1.6M186.75 104.5v1.6M188.41 104.5v1.6M189.82 104.5v1.6M191.04 104.5v1.6M192.11 104.5v1.6M193.07 104.5v2.4M199.40 104.5v1.6M203.11 104.5v1.6M205.73 104.5v1.6M207.77 104.5v1.6M209.44 104.5v1.6M210.84 104.5v1.6M212.06 104.5v1.6M213.14 104.5v1.6" stroke="#444" stroke-width="0.8" fill="none"/>
<path d="M130.0 83.60h-2M130.0 62.70h-2M130.0 41.80h-2" stroke="#444" stroke-width="0.9" fill="none"/>
<text transform="translate(0.0,-0.16) translate(45.54,30.25) scale(1.027,1.000)" font-size="8.5" font-weight="bold" >0.23%</text>
<text transform="translate(0.24,-0.08) translate(100.14,31.25) scale(1.032,1.000)" font-size="8.5" font-weight="bold" >0.03%</text>
<text transform="translate(-0.16,-0.24) translate(99.55,100.90) scale(1.019,1.000)" font-size="8.5" font-weight="bold" >2.64%</text>
<text transform="translate(0.0,0.0) translate(134.34,29.65) scale(1.023,1.000)" font-size="8.5" font-weight="bold" >3.07%</text>
<text transform="translate(-0.08,-0.32) translate(186.48,30.80) scale(1.038,1.000)" font-size="8.5" font-weight="bold" >1.44%</text>
<text transform="translate(0.0,-0.24) translate(181.24,100.90) scale(1.027,1.000)" font-size="8.5" font-weight="bold" >82.10%</text>
<text transform="translate(-0.32,0.72) translate(1.36,82.45) scale(1.086,1.000)" font-size="12" font-weight="bold" >CD56</text>
<text transform="translate(-0.08,0.24) translate(63.66,119.93) scale(1.076,1.071)" font-size="12" font-weight="bold" >CD16</text>
<path d="M28.8 114.6V89.5M28.8 114.6H54" stroke="#333" stroke-width="1.1" fill="none"/>
<path d="M28.8 85.2L26.3 90.6H31.3Z" fill="#000"/>
<path d="M59.2 114.6L53.2 112.2V117Z" fill="#000"/>
<path d="M81.4 136.4H171.1V225.1H81.4Z" fill="none" stroke="#333" stroke-width="1"/>
<line x1="78.80000000000001" y1="225.1" x2="81.4" y2="225.1" stroke="#333" stroke-width="1"/>
<text class="r" transform="translate(76.7,229.30) scale(1.07,1)" font-size="10.6" text-anchor="end">0</text>
<line x1="78.80000000000001" y1="207.35999999999999" x2="81.4" y2="207.35999999999999" stroke="#333" stroke-width="1"/>
<text class="r" transform="translate(76.7,211.56) scale(1.07,1)" font-size="10.6" text-anchor="end">20</text>
<line x1="78.80000000000001" y1="189.62" x2="81.4" y2="189.62" stroke="#333" stroke-width="1"/>
<text class="r" transform="translate(76.7,193.82) scale(1.07,1)" font-size="10.6" text-anchor="end">40</text>
<line x1="78.80000000000001" y1="171.88" x2="81.4" y2="171.88" stroke="#333" stroke-width="1"/>
<text class="r" transform="translate(76.7,176.08) scale(1.07,1)" font-size="10.6" text-anchor="end">60</text>
<line x1="78.80000000000001" y1="154.14" x2="81.4" y2="154.14" stroke="#333" stroke-width="1"/>
<text class="r" transform="translate(76.7,158.34) scale(1.07,1)" font-size="10.6" text-anchor="end">80</text>
<line x1="78.80000000000001" y1="136.4" x2="81.4" y2="136.4" stroke="#333" stroke-width="1"/>
<text class="r" transform="translate(76.7,140.60) scale(1.07,1)" font-size="10.6" text-anchor="end">100</text>
<rect x="102.3" y="156.09140000000002" width="18.2" height="69.00859999999997" fill="#000"/>
<line x1="111.4" y1="156.09140000000002" x2="111.4" y2="136.4" stroke="#333" stroke-width="1"/>
<line x1="108.5" y1="136.4" x2="114.3" y2="136.4" stroke="#333" stroke-width="1.2"/>
<rect x="132.5" y="212.682" width="18" height="12.418000000000006" fill="#fff" stroke="#222" stroke-width="1"/>
<line x1="141.4" y1="212.682" x2="141.4" y2="189.62" stroke="#333" stroke-width="1"/>
<line x1="138.4" y1="189.62" x2="144.2" y2="189.62" stroke="#333" stroke-width="1.2"/>
<rect x="120.4" y="139.5" width="17.2" height="5.1" fill="#000"/>
<rect x="120.9" y="149.2" width="16.4" height="4.4" fill="#fff" stroke="#222" stroke-width="1"/>
<text transform="translate(0.0,-0.16) translate(141.40,144.60) scale(0.998,1.029)" font-size="7.5" font-weight="normal" >NK + LC</text>
<text transform="translate(0.32,-0.16) translate(141.41,153.23) scale(0.975,0.914)" font-size="7.5" font-weight="normal" >NK only</text>
<text transform="translate(-0.24,0.16) translate(45.90,250.81) rotate(-90) scale(1.019,1.070)" font-size="13" font-weight="normal" >surviving NK cells [%]</text>
<text transform="translate(-0.08,-0.08) translate(241.55,18.90) scale(1.031,1.085)" font-size="24" font-weight="bold" >B</text>
<text transform="translate(-1.12,-0.16) translate(255.20,196.16) rotate(-90) scale(1.025,1.000)" font-size="11" font-weight="normal" ><tspan font-size="7.5" dy="-4">3</tspan><tspan dy="4">H-TdR incorporation [x10</tspan><tspan font-size="7.5" dy="-4">3</tspan><tspan dy="4"> cpm]</tspan></text>
<path d="M292.1 37.5H387.3V195.4H292.1Z" fill="none" stroke="#3a3a3a" stroke-width="1.1"/>
<line x1="289.6" y1="195.4" x2="292.1" y2="195.4" stroke="#3a3a3a" stroke-width="1"/>
<text class="r" transform="translate(288.50,200.00) scale(1.07,1)" font-size="10.5" text-anchor="end">0</text>
<line x1="289.6" y1="163.82" x2="292.1" y2="163.82" stroke="#3a3a3a" stroke-width="1"/>
<text class="r" transform="translate(288.50,168.42) scale(1.07,1)" font-size="10.5" text-anchor="end">20</text>
<line x1="289.6" y1="132.24" x2="292.1" y2="132.24" stroke="#3a3a3a" stroke-width="1"/>
<text class="r" transform="translate(288.50,136.84) scale(1.07,1)" font-size="10.5" text-anchor="end">40</text>
<line x1="289.6" y1="100.66000000000001" x2="292.1" y2="100.66000000000001" stroke="#3a3a3a" stroke-width="1"/>
<text class="r" transform="translate(288.50,105.26) scale(1.07,1)" font-size="10.5" text-anchor="end">60</text>
<line x1="289.6" y1="69.08000000000001" x2="292.1" y2="69.08000000000001" stroke="#3a3a3a" stroke-width="1"/>
<text class="r" transform="translate(288.50,73.68) scale(1.07,1)" font-size="10.5" text-anchor="end">80</text>
<line x1="289.6" y1="37.5" x2="292.1" y2="37.5" stroke="#3a3a3a" stroke-width="1"/>
<text class="r" transform="translate(288.50,42.10) scale(1.07,1)" font-size="10.5" text-anchor="end">100</text>
<line x1="292.1" y1="195.4" x2="292.1" y2="197.70000000000002" stroke="#3a3a3a" stroke-width="1"/>
<text class="r" transform="translate(296.70,204.40) scale(1.08,1) rotate(-45)" font-size="8.9" text-anchor="end">1</text>
<line x1="315.90000000000003" y1="195.4" x2="315.90000000000003" y2="197.70000000000002" stroke="#3a3a3a" stroke-width="1"/>
<text class="r" transform="translate(320.50,204.40) scale(1.08,1) rotate(-45)" font-size="8.9" text-anchor="end">10</text>
<line x1="339.70000000000005" y1="195.4" x2="339.70000000000005" y2="197.70000000000002" stroke="#3a3a3a" stroke-width="1"/>
<text class="r" transform="translate(344.30,204.40) scale(1.08,1) rotate(-45)" font-size="8.9" text-anchor="end">100</text>
<line x1="363.5" y1="195.4" x2="363.5" y2="197.70000000000002" stroke="#3a3a3a" stroke-width="1"/>
<text class="r" transform="translate(368.10,204.40) scale(1.08,1) rotate(-45)" font-size="8.9" text-anchor="end">1000</text>
<line x1="387.3" y1="195.4" x2="387.3" y2="197.70000000000002" stroke="#3a3a3a" stroke-width="1"/>
<text class="r" transform="translate(391.90,204.40) scale(1.08,1) rotate(-45)" font-size="8.9" text-anchor="end">10000</text>
<path d="M315.90 145.50L327.26 145.50L339.70 158.61L351.06 155.14L363.50 161.29" stroke="#111" stroke-width="0.9" fill="none"/>
<path d="M315.90 128.77L327.26 133.03L339.70 144.87L351.06 152.45L363.50 168.24" stroke="#111" stroke-width="0.9" fill="none"/>
<path d="M315.90 77.45L327.26 93.87L339.70 123.71L351.06 137.77L363.50 161.29" stroke="#111" stroke-width="0.9" fill="none"/>
<path d="M315.90 142.35V150.71" stroke="#8a8a8a" stroke-width="1" fill="none"/>
<path d="M312.90 142.35h6M312.90 150.71h6" stroke="#4a4a4a" stroke-width="1.1" fill="none"/>
<path d="M315.90 126.71V130.98" stroke="#8a8a8a" stroke-width="1" fill="none"/>
<path d="M312.90 126.71h6M312.90 130.98h6" stroke="#4a4a4a" stroke-width="1.1" fill="none"/>
<path d="M327.26 126.71V139.35" stroke="#8a8a8a" stroke-width="1" fill="none"/>
<path d="M324.26 126.71h6M324.26 139.35h6" stroke="#4a4a4a" stroke-width="1.1" fill="none"/>
<path d="M351.06 149.14V161.14" stroke="#8a8a8a" stroke-width="1" fill="none"/>
<path d="M348.06 149.14h6M348.06 161.14h6" stroke="#4a4a4a" stroke-width="1.1" fill="none"/>
<path d="M363.50 161.45V175.66" stroke="#8a8a8a" stroke-width="1" fill="none"/>
<path d="M360.50 161.45h6M360.50 175.66h6" stroke="#4a4a4a" stroke-width="1.1" fill="none"/>
<path d="M315.90 60.24V94.98" stroke="#8a8a8a" stroke-width="1" fill="none"/>
<path d="M312.90 60.24h6M312.90 94.98h6" stroke="#4a4a4a" stroke-width="1.1" fill="none"/>
<path d="M327.26 84.08V104.29" stroke="#8a8a8a" stroke-width="1" fill="none"/>
<path d="M324.26 84.08h6M324.26 104.29h6" stroke="#4a4a4a" stroke-width="1.1" fill="none"/>
<path d="M339.70 112.50V134.61" stroke="#8a8a8a" stroke-width="1" fill="none"/>
<path d="M336.70 112.50h6M336.70 134.61h6" stroke="#4a4a4a" stroke-width="1.1" fill="none"/>
<path d="M351.06 131.92V143.29" stroke="#8a8a8a" stroke-width="1" fill="none"/>
<path d="M348.06 131.92h6M348.06 143.29h6" stroke="#4a4a4a" stroke-width="1.1" fill="none"/>
<circle cx="315.90" cy="77.45" r="2.3" fill="#000"/>
<circle cx="327.26" cy="93.87" r="2.3" fill="#000"/>
<circle cx="339.70" cy="123.71" r="2.3" fill="#000"/>
<circle cx="351.06" cy="137.77" r="2.3" fill="#000"/>
<circle cx="363.50" cy="161.29" r="2.3" fill="#000"/>
<path d="M313.60 126.97h4.6L315.90 130.97Z" fill="#000"/>
<path d="M324.96 131.23h4.6L327.26 135.23Z" fill="#000"/>
<path d="M337.40 143.07h4.6L339.70 147.07Z" fill="#000"/>
<path d="M348.76 150.65h4.6L351.06 154.65Z" fill="#000"/>
<path d="M361.20 166.44h4.6L363.50 170.44Z" fill="#000"/>
<circle cx="315.90" cy="145.50" r="2.0" fill="#fff" stroke="#111" stroke-width="0.9"/>
<circle cx="327.26" cy="145.50" r="2.0" fill="#fff" stroke="#111" stroke-width="0.9"/>
<rect x="337.70" y="156.61" width="4" height="4" fill="#fff" stroke="#111" stroke-width="0.9"/>
<rect x="349.06" y="153.14" width="4" height="4" fill="#fff" stroke="#111" stroke-width="0.9"/>
<rect x="361.50" y="159.29" width="4" height="4" fill="#fff" stroke="#111" stroke-width="0.9"/>
<path d="M419.4 37.5H514.5V195.4H419.4Z" fill="none" stroke="#3a3a3a" stroke-width="1.1"/>
<line x1="416.9" y1="195.4" x2="419.4" y2="195.4" stroke="#3a3a3a" stroke-width="1"/>
<text class="r" transform="translate(415.80,200.00) scale(1.07,1)" font-size="10.5" text-anchor="end">0</text>
<line x1="416.9" y1="155.925" x2="419.4" y2="155.925" stroke="#3a3a3a" stroke-width="1"/>
<text class="r" transform="translate(415.80,160.53) scale(1.07,1)" font-size="10.5" text-anchor="end">50</text>
<line x1="416.9" y1="116.45" x2="419.4" y2="116.45" stroke="#3a3a3a" stroke-width="1"/>
<text class="r" transform="translate(415.80,121.05) scale(1.07,1)" font-size="10.5" text-anchor="end">100</text>
<line x1="416.9" y1="76.97500000000001" x2="419.4" y2="76.97500000000001" stroke="#3a3a3a" stroke-width="1"/>
<text class="r" transform="translate(415.80,81.58) scale(1.07,1)" font-size="10.5" text-anchor="end">150</text>
<line x1="416.9" y1="37.5" x2="419.4" y2="37.5" stroke="#3a3a3a" stroke-width="1"/>
<text class="r" transform="translate(415.80,42.10) scale(1.07,1)" font-size="10.5" text-anchor="end">200</text>
<line x1="419.4" y1="195.4" x2="419.4" y2="197.70000000000002" stroke="#3a3a3a" stroke-width="1"/>
<text class="r" transform="translate(424.00,204.40) scale(1.08,1) rotate(-45)" font-size="8.9" text-anchor="end">2</text>
<line x1="443.17499999999995" y1="195.4" x2="443.17499999999995" y2="197.70000000000002" stroke="#3a3a3a" stroke-width="1"/>
<text class="r" transform="translate(447.77,204.40) scale(1.08,1) rotate(-45)" font-size="8.9" text-anchor="end">20</text>
<line x1="466.95" y1="195.4" x2="466.95" y2="197.70000000000002" stroke="#3a3a3a" stroke-width="1"/>
<text class="r" transform="translate(471.55,204.40) scale(1.08,1) rotate(-45)" font-size="8.9" text-anchor="end">200</text>
<line x1="490.725" y1="195.4" x2="490.725" y2="197.70000000000002" stroke="#3a3a3a" stroke-width="1"/>
<text class="r" transform="translate(495.33,204.40) scale(1.08,1) rotate(-45)" font-size="8.9" text-anchor="end">2000</text>
<line x1="514.5" y1="195.4" x2="514.5" y2="197.70000000000002" stroke="#3a3a3a" stroke-width="1"/>
<text class="r" transform="translate(519.10,204.40) scale(1.08,1) rotate(-45)" font-size="8.9" text-anchor="end">20000</text>
<path d="M443.17 111.24L454.52 129.87L466.95 150.24L478.29 162.40L490.73 176.93" stroke="#111" stroke-width="0.9" fill="none"/>
<path d="M443.17 82.26L454.52 93.00L466.95 139.19L478.29 159.71L490.73 173.37" stroke="#111" stroke-width="0.9" fill="none"/>
<path d="M443.17 60.00L454.52 68.61L466.95 111.79L478.29 150.71L490.73 169.90" stroke="#111" stroke-width="0.9" fill="none"/>
<path d="M443.17 106.42V115.19" stroke="#222" stroke-width="1" fill="none"/>
<path d="M440.17 106.42h6M440.17 115.19h6" stroke="#222" stroke-width="1.1" fill="none"/>
<path d="M466.95 146.45V152.37" stroke="#222" stroke-width="1" fill="none"/>
<path d="M463.95 146.45h6M463.95 152.37h6" stroke="#222" stroke-width="1.1" fill="none"/>
<path d="M490.73 174.87V178.82" stroke="#222" stroke-width="1" fill="none"/>
<path d="M487.73 174.87h6M487.73 178.82h6" stroke="#222" stroke-width="1.1" fill="none"/>
<path d="M443.17 80.53V84.48" stroke="#222" stroke-width="1" fill="none"/>
<path d="M440.17 80.53h6M440.17 84.48h6" stroke="#222" stroke-width="1.1" fill="none"/>
<path d="M454.52 89.45V96.95" stroke="#222" stroke-width="1" fill="none"/>
<path d="M451.52 89.45h6M451.52 96.95h6" stroke="#222" stroke-width="1.1" fill="none"/>
<path d="M466.95 137.37V140.92" stroke="#222" stroke-width="1" fill="none"/>
<path d="M463.95 137.37h6M463.95 140.92h6" stroke="#222" stroke-width="1.1" fill="none"/>
<path d="M454.52 63.32V74.37" stroke="#222" stroke-width="1" fill="none"/>
<path d="M451.52 63.32h6M451.52 74.37h6" stroke="#222" stroke-width="1.1" fill="none"/>
<path d="M466.95 106.42V117.24" stroke="#222" stroke-width="1" fill="none"/>
<path d="M463.95 106.42h6M463.95 117.24h6" stroke="#222" stroke-width="1.1" fill="none"/>
<circle cx="443.17" cy="82.26" r="2.3" fill="#000"/>
<circle cx="454.52" cy="93.00" r="2.3" fill="#000"/>
<circle cx="466.95" cy="139.19" r="2.3" fill="#000"/>
<circle cx="478.29" cy="159.71" r="2.3" fill="#000"/>
<circle cx="490.73" cy="173.37" r="2.3" fill="#000"/>
<path d="M440.87 109.44h4.6L443.17 113.44Z" fill="#000"/>
<path d="M452.22 128.07h4.6L454.52 132.07Z" fill="#000"/>
<path d="M464.65 148.44h4.6L466.95 152.44Z" fill="#000"/>
<path d="M475.99 160.60h4.6L478.29 164.60Z" fill="#000"/>
<path d="M488.43 175.13h4.6L490.73 179.13Z" fill="#000"/>
<circle cx="454.52" cy="68.61" r="2.0" fill="#fff" stroke="#111" stroke-width="0.9"/>
<circle cx="466.95" cy="111.79" r="2.0" fill="#fff" stroke="#111" stroke-width="0.9"/>
<rect x="441.17" y="58.00" width="4" height="4" fill="#fff" stroke="#111" stroke-width="0.9"/>
<rect x="476.29" y="148.71" width="4" height="4" fill="#fff" stroke="#111" stroke-width="0.9"/>
<rect x="488.73" y="167.90" width="4" height="4" fill="#fff" stroke="#111" stroke-width="0.9"/>
<text transform="translate(0.32,0.0) translate(321.65,247.36) scale(1.051,0.965)" font-size="11.5" font-weight="normal" class="r" style="stroke-width:0.15px">NK<tspan font-weight="bold">/</tspan>DC</text>
<text transform="translate(0.32,0.08) translate(451.24,247.46) scale(1.060,0.976)" font-size="11.5" font-weight="normal" class="r" style="stroke-width:0.15px">NK<tspan font-weight="bold">/</tspan>DC</text>
</svg>
</body></html>
